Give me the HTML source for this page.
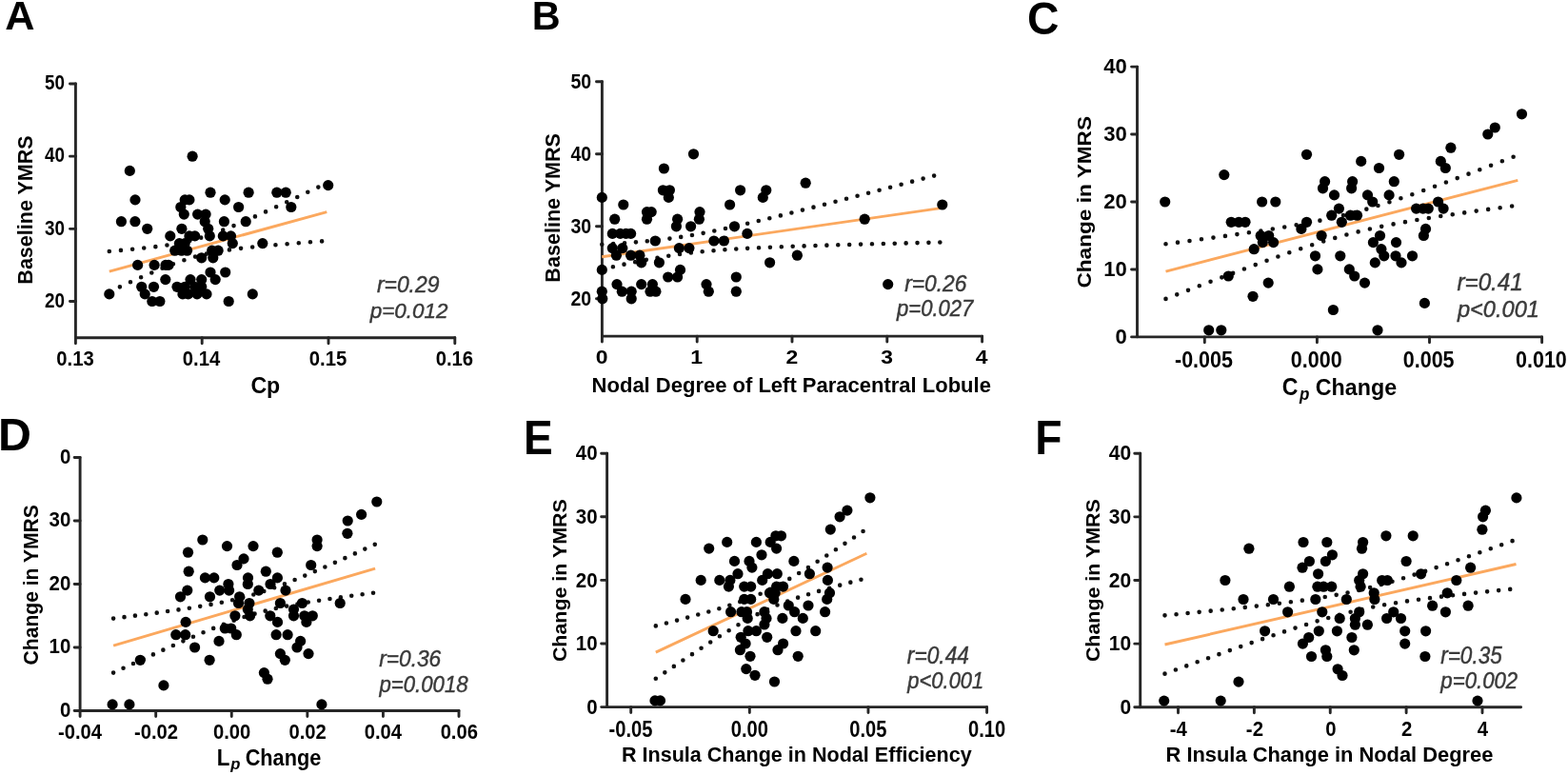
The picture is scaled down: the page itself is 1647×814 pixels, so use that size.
<!DOCTYPE html>
<html><head><meta charset="utf-8"><title>Figure</title>
<style>
html,body{margin:0;padding:0;background:#fff;}
body{width:1647px;height:814px;overflow:hidden;}
svg{display:block;}
text{font-family:"Liberation Sans", Arial, sans-serif;}
</style></head><body>
<svg width="1647" height="814" viewBox="0 0 1647 814">
<rect width="1647" height="814" fill="#fff"/>
<text transform="translate(5.17,30.85) scale(1.0090,1)" font-size="42.90" font-weight="bold" font-style="normal" fill="#000">A</text>
<path d="M79.40,88.00 L79.40,354.80 L477.80,354.80" fill="none" stroke="#262626" stroke-width="2.9" stroke-linejoin="round" stroke-linecap="round"/>
<path d="M73.45,316.50 L79.40,316.50 M73.45,240.33 L79.40,240.33 M73.45,164.17 L79.40,164.17 M73.45,88.00 L79.40,88.00 M79.40,354.80 L79.40,360.75 M212.20,354.80 L212.20,360.75 M345.00,354.80 L345.00,360.75 M477.80,354.80 L477.80,360.75" fill="none" stroke="#262626" stroke-width="2.9" stroke-linecap="round"/>
<text transform="translate(47.09,322.74) scale(0.8801,1)" font-size="21.41" font-weight="bold" font-style="normal" fill="#000">20</text>
<text transform="translate(47.09,246.57) scale(0.8801,1)" font-size="21.41" font-weight="bold" font-style="normal" fill="#000">30</text>
<text transform="translate(47.09,170.40) scale(0.8801,1)" font-size="21.41" font-weight="bold" font-style="normal" fill="#000">40</text>
<text transform="translate(47.09,94.24) scale(0.8801,1)" font-size="21.41" font-weight="bold" font-style="normal" fill="#000">50</text>
<text transform="translate(59.24,384.23) scale(0.9405,1)" font-size="21.55" font-weight="bold" font-style="normal" fill="#000">0.13</text>
<text transform="translate(191.74,384.23) scale(0.9405,1)" font-size="21.55" font-weight="bold" font-style="normal" fill="#000">0.14</text>
<text transform="translate(324.74,384.23) scale(0.9405,1)" font-size="21.55" font-weight="bold" font-style="normal" fill="#000">0.15</text>
<text transform="translate(457.64,384.23) scale(0.9405,1)" font-size="21.55" font-weight="bold" font-style="normal" fill="#000">0.16</text>
<text transform="translate(263.43,412.88) scale(0.9971,1)" font-size="23.19" font-weight="bold" font-style="normal" fill="#000">Cp</text>
<text transform="translate(34.33,298.65) rotate(-90) scale(0.9893,1)" font-size="21.77" font-weight="bold" fill="#000">Baseline YMRS</text>
<text transform="translate(395.91,307.31) scale(0.9509,1)" font-size="24.08" font-weight="normal" font-style="italic" fill="#3a3a3a" stroke="#3a3a3a" stroke-width="0.45">r=0.29</text>
<text transform="translate(388.71,333.54) scale(1.0009,1)" font-size="22.42" font-weight="normal" font-style="italic" fill="#3a3a3a" stroke="#3a3a3a" stroke-width="0.45">p=0.012</text>
<text transform="translate(558.76,30.85) scale(0.9630,1)" font-size="42.90" font-weight="bold" font-style="normal" fill="#000">B</text>
<path d="M632.40,85.80 L632.40,353.10 L1031.60,353.10" fill="none" stroke="#262626" stroke-width="2.9" stroke-linejoin="round" stroke-linecap="round"/>
<path d="M626.45,313.80 L632.40,313.80 M626.45,237.80 L632.40,237.80 M626.45,161.80 L632.40,161.80 M626.45,85.80 L632.40,85.80 M632.40,353.10 L632.40,359.05 M732.20,353.10 L732.20,359.05 M832.00,353.10 L832.00,359.05 M931.80,353.10 L931.80,359.05 M1031.60,353.10 L1031.60,359.05" fill="none" stroke="#262626" stroke-width="2.9" stroke-linecap="round"/>
<text transform="translate(599.47,320.93) scale(0.9057,1)" font-size="21.55" font-weight="bold" font-style="normal" fill="#000">20</text>
<text transform="translate(599.47,244.93) scale(0.9057,1)" font-size="21.55" font-weight="bold" font-style="normal" fill="#000">30</text>
<text transform="translate(599.47,168.93) scale(0.9057,1)" font-size="21.55" font-weight="bold" font-style="normal" fill="#000">40</text>
<text transform="translate(599.47,92.93) scale(0.9057,1)" font-size="21.55" font-weight="bold" font-style="normal" fill="#000">50</text>
<text transform="translate(625.73,381.75) scale(1.1638,1)" font-size="19.72" font-weight="bold" font-style="normal" fill="#000">0</text>
<text transform="translate(725.13,381.75) scale(1.1638,1)" font-size="19.72" font-weight="bold" font-style="normal" fill="#000">1</text>
<text transform="translate(825.39,381.75) scale(1.1638,1)" font-size="19.72" font-weight="bold" font-style="normal" fill="#000">2</text>
<text transform="translate(925.25,381.75) scale(1.1638,1)" font-size="19.72" font-weight="bold" font-style="normal" fill="#000">3</text>
<text transform="translate(1024.82,381.75) scale(1.1638,1)" font-size="19.72" font-weight="bold" font-style="normal" fill="#000">4</text>
<text transform="translate(621.62,412.26) scale(1.0292,1)" font-size="21.39" font-weight="bold" font-style="normal" fill="#000">Nodal Degree of Left Paracentral Lobule</text>
<text transform="translate(587.52,296.65) rotate(-90) scale(0.9440,1)" font-size="22.86" font-weight="bold" fill="#000">Baseline YMRS</text>
<text transform="translate(950.21,305.61) scale(0.9669,1)" font-size="23.52" font-weight="normal" font-style="italic" fill="#3a3a3a" stroke="#3a3a3a" stroke-width="0.45">r=0.26</text>
<text transform="translate(942.00,332.08) scale(0.9524,1)" font-size="23.19" font-weight="normal" font-style="italic" fill="#3a3a3a" stroke="#3a3a3a" stroke-width="0.45">p=0.027</text>
<text transform="translate(1078.90,36.26) scale(0.9438,1)" font-size="49.01" font-weight="bold" font-style="normal" fill="#000">C</text>
<path d="M1194.50,70.10 L1194.50,353.90 L1619.60,353.90" fill="none" stroke="#262626" stroke-width="2.9" stroke-linejoin="round" stroke-linecap="round"/>
<path d="M1188.55,353.90 L1194.50,353.90 M1188.55,282.95 L1194.50,282.95 M1188.55,212.00 L1194.50,212.00 M1188.55,141.05 L1194.50,141.05 M1188.55,70.10 L1194.50,70.10 M1265.30,353.90 L1265.30,359.85 M1383.40,353.90 L1383.40,359.85 M1501.50,353.90 L1501.50,359.85 M1619.60,353.90 L1619.60,359.85" fill="none" stroke="#262626" stroke-width="2.9" stroke-linecap="round"/>
<text transform="translate(1171.48,360.93) scale(0.9924,1)" font-size="22.25" font-weight="bold" font-style="normal" fill="#000">0</text>
<text transform="translate(1159.22,289.98) scale(0.9924,1)" font-size="22.25" font-weight="bold" font-style="normal" fill="#000">10</text>
<text transform="translate(1159.22,219.03) scale(0.9924,1)" font-size="22.25" font-weight="bold" font-style="normal" fill="#000">20</text>
<text transform="translate(1159.22,148.08) scale(0.9924,1)" font-size="22.25" font-weight="bold" font-style="normal" fill="#000">30</text>
<text transform="translate(1159.22,77.13) scale(0.9924,1)" font-size="22.25" font-weight="bold" font-style="normal" fill="#000">40</text>
<text transform="translate(1233.99,385.92) scale(0.9187,1)" font-size="23.38" font-weight="bold" font-style="normal" fill="#000">-0.005</text>
<text transform="translate(1355.85,385.92) scale(0.9187,1)" font-size="23.38" font-weight="bold" font-style="normal" fill="#000">0.000</text>
<text transform="translate(1473.79,385.92) scale(0.9187,1)" font-size="23.38" font-weight="bold" font-style="normal" fill="#000">0.005</text>
<text transform="translate(1592.05,385.92) scale(0.9187,1)" font-size="23.38" font-weight="bold" font-style="normal" fill="#000">0.010</text>
<text transform="translate(1346.83,415.49) scale(0.8848,1)" font-size="26.06" font-weight="bold" font-style="normal" fill="#000">C</text>
<text transform="translate(1365.09,420.14) scale(0.9375,1)" font-size="18.13" font-weight="bold" font-style="italic" fill="#000">p</text>
<text transform="translate(1381.82,414.93) scale(0.9538,1)" font-size="24.39" font-weight="bold" font-style="normal" fill="#000">Change</text>
<text transform="translate(1145.59,302.56) rotate(-90) scale(1.0907,1)" font-size="20.75" font-weight="bold" fill="#000">Change in YMRS</text>
<text transform="translate(1530.39,305.10) scale(0.9575,1)" font-size="25.35" font-weight="normal" font-style="italic" fill="#3a3a3a" stroke="#3a3a3a" stroke-width="0.45">r=0.41</text>
<text transform="translate(1530.94,332.73) scale(0.9675,1)" font-size="24.40" font-weight="normal" font-style="italic" fill="#3a3a3a" stroke="#3a3a3a" stroke-width="0.45">p<0.001</text>
<text transform="translate(-1.99,472.75) scale(1.0037,1)" font-size="48.12" font-weight="bold" font-style="normal" fill="#000">D</text>
<path d="M84.10,480.50 L84.10,746.50 L482.00,746.50" fill="none" stroke="#262626" stroke-width="2.9" stroke-linejoin="round" stroke-linecap="round"/>
<path d="M78.15,746.50 L84.10,746.50 M78.15,680.00 L84.10,680.00 M78.15,613.50 L84.10,613.50 M78.15,547.00 L84.10,547.00 M78.15,480.50 L84.10,480.50 M84.10,746.50 L84.10,752.45 M163.68,746.50 L163.68,752.45 M243.26,746.50 L243.26,752.45 M322.84,746.50 L322.84,752.45 M402.42,746.50 L402.42,752.45 M482.00,746.50 L482.00,752.45" fill="none" stroke="#262626" stroke-width="2.9" stroke-linecap="round"/>
<text transform="translate(62.90,752.84) scale(0.9566,1)" font-size="21.41" font-weight="bold" font-style="normal" fill="#000">0</text>
<text transform="translate(51.54,686.34) scale(0.9566,1)" font-size="21.41" font-weight="bold" font-style="normal" fill="#000">10</text>
<text transform="translate(51.54,619.84) scale(0.9566,1)" font-size="21.41" font-weight="bold" font-style="normal" fill="#000">20</text>
<text transform="translate(51.54,553.34) scale(0.9566,1)" font-size="21.41" font-weight="bold" font-style="normal" fill="#000">30</text>
<text transform="translate(62.90,486.84) scale(0.9566,1)" font-size="21.41" font-weight="bold" font-style="normal" fill="#000">0</text>
<text transform="translate(61.04,776.22) scale(0.8919,1)" font-size="22.68" font-weight="bold" font-style="normal" fill="#000">-0.04</text>
<text transform="translate(140.97,776.22) scale(0.8919,1)" font-size="22.68" font-weight="bold" font-style="normal" fill="#000">-0.02</text>
<text transform="translate(223.94,776.22) scale(0.8919,1)" font-size="22.68" font-weight="bold" font-style="normal" fill="#000">0.00</text>
<text transform="translate(303.52,776.22) scale(0.8919,1)" font-size="22.68" font-weight="bold" font-style="normal" fill="#000">0.02</text>
<text transform="translate(382.75,776.22) scale(0.8919,1)" font-size="22.68" font-weight="bold" font-style="normal" fill="#000">0.04</text>
<text transform="translate(462.63,776.22) scale(0.8919,1)" font-size="22.68" font-weight="bold" font-style="normal" fill="#000">0.06</text>
<text transform="translate(227.80,803.75) scale(0.9511,1)" font-size="23.48" font-weight="bold" font-style="normal" fill="#000">L</text>
<text transform="translate(242.18,808.49) scale(0.9843,1)" font-size="16.93" font-weight="bold" font-style="italic" fill="#000">p</text>
<text transform="translate(257.68,804.01) scale(0.9234,1)" font-size="23.53" font-weight="bold" font-style="normal" fill="#000">Change</text>
<text transform="translate(40.31,698.39) rotate(-90) scale(0.9767,1)" font-size="21.60" font-weight="bold" fill="#000">Change in YMRS</text>
<text transform="translate(398.31,700.41) scale(0.9304,1)" font-size="24.37" font-weight="normal" font-style="italic" fill="#3a3a3a" stroke="#3a3a3a" stroke-width="0.45">r=0.36</text>
<text transform="translate(398.50,726.58) scale(0.9566,1)" font-size="23.19" font-weight="normal" font-style="italic" fill="#3a3a3a" stroke="#3a3a3a" stroke-width="0.45">p=0.0018</text>
<text transform="translate(550.06,476.75) scale(0.9366,1)" font-size="49.13" font-weight="bold" font-style="normal" fill="#000">E</text>
<path d="M637.60,476.20 L637.60,742.60 L1036.60,742.60" fill="none" stroke="#262626" stroke-width="2.9" stroke-linejoin="round" stroke-linecap="round"/>
<path d="M631.65,742.60 L637.60,742.60 M631.65,676.00 L637.60,676.00 M631.65,609.40 L637.60,609.40 M631.65,542.80 L637.60,542.80 M631.65,476.20 L637.60,476.20 M662.70,742.60 L662.70,748.55 M787.33,742.60 L787.33,748.55 M911.97,742.60 L911.97,748.55 M1036.60,742.60 L1036.60,748.55" fill="none" stroke="#262626" stroke-width="2.9" stroke-linecap="round"/>
<text transform="translate(616.21,749.83) scale(0.9259,1)" font-size="22.11" font-weight="bold" font-style="normal" fill="#000">0</text>
<text transform="translate(604.84,683.23) scale(0.9259,1)" font-size="22.11" font-weight="bold" font-style="normal" fill="#000">10</text>
<text transform="translate(604.84,616.63) scale(0.9259,1)" font-size="22.11" font-weight="bold" font-style="normal" fill="#000">20</text>
<text transform="translate(604.84,550.03) scale(0.9259,1)" font-size="22.11" font-weight="bold" font-style="normal" fill="#000">30</text>
<text transform="translate(604.84,483.43) scale(0.9259,1)" font-size="22.11" font-weight="bold" font-style="normal" fill="#000">40</text>
<text transform="translate(639.54,773.51) scale(0.8379,1)" font-size="24.08" font-weight="bold" font-style="normal" fill="#000">-0.05</text>
<text transform="translate(767.71,773.51) scale(0.8379,1)" font-size="24.08" font-weight="bold" font-style="normal" fill="#000">0.00</text>
<text transform="translate(892.19,773.51) scale(0.8379,1)" font-size="24.08" font-weight="bold" font-style="normal" fill="#000">0.05</text>
<text transform="translate(1016.97,773.51) scale(0.8379,1)" font-size="24.08" font-weight="bold" font-style="normal" fill="#000">0.10</text>
<text transform="translate(652.95,800.01) scale(0.9556,1)" font-size="22.57" font-weight="bold" font-style="normal" fill="#000">R Insula Change in Nodal Efficiency</text>
<text transform="translate(594.58,695.11) rotate(-90) scale(1.1070,1)" font-size="19.36" font-weight="bold" fill="#000">Change in YMRS</text>
<text transform="translate(952.81,696.80) scale(0.9122,1)" font-size="24.93" font-weight="normal" font-style="italic" fill="#3a3a3a" stroke="#3a3a3a" stroke-width="0.45">r=0.44</text>
<text transform="translate(953.30,722.58) scale(0.9469,1)" font-size="23.19" font-weight="normal" font-style="italic" fill="#3a3a3a" stroke="#3a3a3a" stroke-width="0.45">p<0.001</text>
<text transform="translate(1087.34,476.75) scale(0.9419,1)" font-size="49.13" font-weight="bold" font-style="normal" fill="#000">F</text>
<path d="M1197.70,476.20 L1197.70,742.80 L1597.60,742.80" fill="none" stroke="#262626" stroke-width="2.9" stroke-linejoin="round" stroke-linecap="round"/>
<path d="M1191.75,742.80 L1197.70,742.80 M1191.75,676.15 L1197.70,676.15 M1191.75,609.50 L1197.70,609.50 M1191.75,542.85 L1197.70,542.85 M1191.75,476.20 L1197.70,476.20 M1237.50,742.80 L1237.50,748.75 M1317.38,742.80 L1317.38,748.75 M1397.25,742.80 L1397.25,748.75 M1477.12,742.80 L1477.12,748.75 M1557.00,742.80 L1557.00,748.75" fill="none" stroke="#262626" stroke-width="2.9" stroke-linecap="round"/>
<text transform="translate(1176.41,750.03) scale(0.9516,1)" font-size="22.11" font-weight="bold" font-style="normal" fill="#000">0</text>
<text transform="translate(1164.73,683.38) scale(0.9516,1)" font-size="22.11" font-weight="bold" font-style="normal" fill="#000">10</text>
<text transform="translate(1164.73,616.73) scale(0.9516,1)" font-size="22.11" font-weight="bold" font-style="normal" fill="#000">20</text>
<text transform="translate(1164.73,550.08) scale(0.9516,1)" font-size="22.11" font-weight="bold" font-style="normal" fill="#000">30</text>
<text transform="translate(1164.73,483.43) scale(0.9516,1)" font-size="22.11" font-weight="bold" font-style="normal" fill="#000">40</text>
<text transform="translate(1228.64,772.75) scale(0.9061,1)" font-size="22.46" font-weight="bold" font-style="normal" fill="#000">-4</text>
<text transform="translate(1308.87,772.75) scale(0.9061,1)" font-size="22.46" font-weight="bold" font-style="normal" fill="#000">-2</text>
<text transform="translate(1392.15,772.75) scale(0.9061,1)" font-size="22.46" font-weight="bold" font-style="normal" fill="#000">0</text>
<text transform="translate(1472.08,772.75) scale(0.9061,1)" font-size="22.46" font-weight="bold" font-style="normal" fill="#000">2</text>
<text transform="translate(1551.80,772.75) scale(0.9061,1)" font-size="22.46" font-weight="bold" font-style="normal" fill="#000">4</text>
<text transform="translate(1224.53,800.19) scale(0.9653,1)" font-size="22.67" font-weight="bold" font-style="normal" fill="#000">R Insula Change in Nodal Degree</text>
<text transform="translate(1154.58,695.11) rotate(-90) scale(1.1070,1)" font-size="19.36" font-weight="bold" fill="#000">Change in YMRS</text>
<text transform="translate(1513.21,696.80) scale(0.9036,1)" font-size="24.93" font-weight="normal" font-style="italic" fill="#3a3a3a" stroke="#3a3a3a" stroke-width="0.45">r=0.35</text>
<text transform="translate(1513.31,722.58) scale(0.9583,1)" font-size="23.19" font-weight="normal" font-style="italic" fill="#3a3a3a" stroke="#3a3a3a" stroke-width="0.45">p=0.002</text>
<path d="M114.80,263.93 L115.95,263.83 L117.10,263.74 L118.24,263.64 L119.39,263.54 L120.54,263.45 L121.69,263.35 L122.84,263.25 L123.99,263.15 L125.13,263.05 L126.28,262.95 L127.43,262.85 L128.58,262.74 L129.73,262.64 L130.88,262.54 L132.02,262.43 L133.17,262.33 L134.32,262.22 L135.47,262.11 L136.62,262.01 L137.76,261.90 L138.91,261.79 L140.06,261.68 L141.21,261.56 L142.36,261.45 L143.51,261.34 L144.65,261.22 L145.80,261.10 L146.95,260.98 L148.10,260.87 L149.25,260.74 L150.40,260.62 L151.54,260.50 L152.69,260.37 L153.84,260.25 L154.99,260.12 L156.14,259.99 L157.28,259.86 L158.43,259.72 L159.58,259.59 L160.73,259.45 L161.88,259.31 L163.03,259.17 L164.17,259.02 L165.32,258.87 L166.47,258.72 L167.62,258.57 L168.77,258.42 L169.92,258.26 L171.06,258.10 L172.21,257.94 L173.36,257.77 L174.51,257.60 L175.66,257.43 L176.81,257.25 L177.95,257.07 L179.10,256.89 L180.25,256.70 L181.40,256.50 L182.55,256.31 L183.69,256.11 L184.84,255.90 L185.99,255.69 L187.14,255.48 L188.29,255.26 L189.44,255.03 L190.58,254.80 L191.73,254.57 L192.88,254.33 L194.03,254.08 L195.18,253.83 L196.33,253.57 L197.47,253.30 L198.62,253.03 L199.77,252.76 L200.92,252.48 L202.07,252.19 L203.21,251.89 L204.36,251.59 L205.51,251.28 L206.66,250.97 L207.81,250.65 L208.96,250.32 L210.10,249.98 L211.25,249.64 L212.40,249.30 L213.55,248.94 L214.70,248.59 L215.85,248.22 L216.99,247.85 L218.14,247.47 L219.29,247.09 L220.44,246.70 L221.59,246.31 L222.73,245.91 L223.88,245.51 L225.03,245.10 L226.18,244.68 L227.33,244.26 L228.48,243.84 L229.62,243.41 L230.77,242.98 L231.92,242.54 L233.07,242.10 L234.22,241.66 L235.37,241.21 L236.51,240.76 L237.66,240.30 L238.81,239.84 L239.96,239.38 L241.11,238.92 L242.25,238.45 L243.40,237.98 L244.55,237.50 L245.70,237.03 L246.85,236.55 L248.00,236.07 L249.14,235.58 L250.29,235.10 L251.44,234.61 L252.59,234.12 L253.74,233.62 L254.89,233.13 L256.03,232.63 L257.18,232.14 L258.33,231.64 L259.48,231.13 L260.63,230.63 L261.77,230.13 L262.92,229.62 L264.07,229.11 L265.22,228.60 L266.37,228.09 L267.52,227.58 L268.66,227.07 L269.81,226.55 L270.96,226.04 L272.11,225.52 L273.26,225.01 L274.41,224.49 L275.55,223.97 L276.70,223.45 L277.85,222.93 L279.00,222.41 L280.15,221.88 L281.29,221.36 L282.44,220.84 L283.59,220.31 L284.74,219.78 L285.89,219.26 L287.04,218.73 L288.18,218.20 L289.33,217.67 L290.48,217.14 L291.63,216.61 L292.78,216.08 L293.93,215.55 L295.07,215.02 L296.22,214.49 L297.37,213.96 L298.52,213.42 L299.67,212.89 L300.82,212.36 L301.96,211.82 L303.11,211.29 L304.26,210.75 L305.41,210.21 L306.56,209.68 L307.70,209.14 L308.85,208.61 L310.00,208.07 L311.15,207.53 L312.30,206.99 L313.45,206.45 L314.59,205.91 L315.74,205.38 L316.89,204.84 L318.04,204.30 L319.19,203.76 L320.34,203.22 L321.48,202.68 L322.63,202.13 L323.78,201.59 L324.93,201.05 L326.08,200.51 L327.22,199.97 L328.37,199.43 L329.52,198.88 L330.67,198.34 L331.82,197.80 L332.97,197.25 L334.11,196.71 L335.26,196.17 L336.41,195.62 L337.56,195.08 L338.71,194.54 L339.86,193.99 L341.00,193.45 L342.15,192.90 L343.30,192.36" fill="none" stroke="#111" stroke-width="4.6" stroke-linecap="round" stroke-dasharray="0 12.2"/>
<path d="M114.80,306.47 L115.95,305.94 L117.10,305.41 L118.24,304.87 L119.39,304.34 L120.54,303.81 L121.69,303.28 L122.84,302.75 L123.99,302.23 L125.13,301.70 L126.28,301.17 L127.43,300.64 L128.58,300.12 L129.73,299.59 L130.88,299.07 L132.02,298.55 L133.17,298.02 L134.32,297.50 L135.47,296.98 L136.62,296.46 L137.76,295.94 L138.91,295.42 L140.06,294.91 L141.21,294.39 L142.36,293.87 L143.51,293.36 L144.65,292.85 L145.80,292.34 L146.95,291.83 L148.10,291.32 L149.25,290.81 L150.40,290.31 L151.54,289.80 L152.69,289.30 L153.84,288.80 L154.99,288.30 L156.14,287.80 L157.28,287.30 L158.43,286.81 L159.58,286.32 L160.73,285.83 L161.88,285.34 L163.03,284.85 L164.17,284.37 L165.32,283.89 L166.47,283.41 L167.62,282.93 L168.77,282.46 L169.92,281.99 L171.06,281.52 L172.21,281.06 L173.36,280.59 L174.51,280.14 L175.66,279.68 L176.81,279.23 L177.95,278.78 L179.10,278.34 L180.25,277.90 L181.40,277.46 L182.55,277.03 L183.69,276.60 L184.84,276.18 L185.99,275.76 L187.14,275.35 L188.29,274.94 L189.44,274.54 L190.58,274.14 L191.73,273.75 L192.88,273.36 L194.03,272.98 L195.18,272.60 L196.33,272.23 L197.47,271.87 L198.62,271.51 L199.77,271.16 L200.92,270.81 L202.07,270.48 L203.21,270.14 L204.36,269.82 L205.51,269.50 L206.66,269.18 L207.81,268.88 L208.96,268.57 L210.10,268.28 L211.25,267.99 L212.40,267.71 L213.55,267.44 L214.70,267.17 L215.85,266.90 L216.99,266.65 L218.14,266.39 L219.29,266.15 L220.44,265.91 L221.59,265.67 L222.73,265.44 L223.88,265.22 L225.03,265.00 L226.18,264.79 L227.33,264.58 L228.48,264.37 L229.62,264.17 L230.77,263.98 L231.92,263.79 L233.07,263.60 L234.22,263.42 L235.37,263.24 L236.51,263.06 L237.66,262.89 L238.81,262.72 L239.96,262.55 L241.11,262.39 L242.25,262.23 L243.40,262.07 L244.55,261.92 L245.70,261.77 L246.85,261.62 L248.00,261.47 L249.14,261.33 L250.29,261.18 L251.44,261.04 L252.59,260.91 L253.74,260.77 L254.89,260.64 L256.03,260.51 L257.18,260.38 L258.33,260.25 L259.48,260.12 L260.63,260.00 L261.77,259.87 L262.92,259.75 L264.07,259.63 L265.22,259.51 L266.37,259.39 L267.52,259.28 L268.66,259.16 L269.81,259.05 L270.96,258.93 L272.11,258.82 L273.26,258.71 L274.41,258.60 L275.55,258.49 L276.70,258.38 L277.85,258.28 L279.00,258.17 L280.15,258.06 L281.29,257.96 L282.44,257.86 L283.59,257.75 L284.74,257.65 L285.89,257.55 L287.04,257.45 L288.18,257.35 L289.33,257.25 L290.48,257.15 L291.63,257.05 L292.78,256.95 L293.93,256.86 L295.07,256.76 L296.22,256.66 L297.37,256.57 L298.52,256.47 L299.67,256.38 L300.82,256.29 L301.96,256.19 L303.11,256.10 L304.26,256.01 L305.41,255.91 L306.56,255.82 L307.70,255.73 L308.85,255.64 L310.00,255.55 L311.15,255.46 L312.30,255.37 L313.45,255.28 L314.59,255.19 L315.74,255.10 L316.89,255.01 L318.04,254.92 L319.19,254.83 L320.34,254.75 L321.48,254.66 L322.63,254.57 L323.78,254.49 L324.93,254.40 L326.08,254.31 L327.22,254.23 L328.37,254.14 L329.52,254.05 L330.67,253.97 L331.82,253.88 L332.97,253.80 L334.11,253.71 L335.26,253.63 L336.41,253.54 L337.56,253.46 L338.71,253.38 L339.86,253.29 L341.00,253.21 L342.15,253.13 L343.30,253.04" fill="none" stroke="#111" stroke-width="4.6" stroke-linecap="round" stroke-dasharray="0 12.2"/>
<line x1="114.80" y1="285.20" x2="343.30" y2="222.70" stroke="#fba85e" stroke-width="2.9"/>
<g fill="#000"><circle cx="202.1" cy="164.2" r="5.6"/><circle cx="136.3" cy="179.4" r="5.6"/><circle cx="344.7" cy="194.6" r="5.6"/><circle cx="221.0" cy="202.2" r="5.6"/><circle cx="261.1" cy="202.2" r="5.6"/><circle cx="290.8" cy="202.2" r="5.6"/><circle cx="300.2" cy="202.2" r="5.6"/><circle cx="142.0" cy="209.9" r="5.6"/><circle cx="194.2" cy="209.9" r="5.6"/><circle cx="198.9" cy="209.9" r="5.6"/><circle cx="236.2" cy="209.9" r="5.6"/><circle cx="189.8" cy="217.5" r="5.6"/><circle cx="250.6" cy="217.5" r="5.6"/><circle cx="305.8" cy="217.5" r="5.6"/><circle cx="193.3" cy="225.1" r="5.6"/><circle cx="207.6" cy="225.1" r="5.6"/><circle cx="216.1" cy="225.1" r="5.6"/><circle cx="127.4" cy="232.7" r="5.6"/><circle cx="141.9" cy="232.7" r="5.6"/><circle cx="215.2" cy="232.7" r="5.6"/><circle cx="235.4" cy="232.7" r="5.6"/><circle cx="258.2" cy="232.7" r="5.6"/><circle cx="154.7" cy="240.3" r="5.6"/><circle cx="190.9" cy="240.3" r="5.6"/><circle cx="218.7" cy="240.3" r="5.6"/><circle cx="178.8" cy="247.9" r="5.6"/><circle cx="198.9" cy="247.9" r="5.6"/><circle cx="204.7" cy="247.9" r="5.6"/><circle cx="220.3" cy="247.9" r="5.6"/><circle cx="234.3" cy="247.9" r="5.6"/><circle cx="242.5" cy="247.9" r="5.6"/><circle cx="188.4" cy="255.6" r="5.6"/><circle cx="194.2" cy="255.6" r="5.6"/><circle cx="244.3" cy="255.6" r="5.6"/><circle cx="275.8" cy="255.6" r="5.6"/><circle cx="183.7" cy="263.2" r="5.6"/><circle cx="190.7" cy="263.2" r="5.6"/><circle cx="196.5" cy="263.2" r="5.6"/><circle cx="222.7" cy="263.2" r="5.6"/><circle cx="229.1" cy="263.2" r="5.6"/><circle cx="211.7" cy="270.8" r="5.6"/><circle cx="223.8" cy="270.8" r="5.6"/><circle cx="144.6" cy="278.4" r="5.6"/><circle cx="162.1" cy="278.4" r="5.6"/><circle cx="174.0" cy="278.4" r="5.6"/><circle cx="177.0" cy="278.4" r="5.6"/><circle cx="221.0" cy="286.0" r="5.6"/><circle cx="236.7" cy="286.0" r="5.6"/><circle cx="173.8" cy="293.6" r="5.6"/><circle cx="200.0" cy="293.6" r="5.6"/><circle cx="211.7" cy="293.6" r="5.6"/><circle cx="226.2" cy="293.6" r="5.6"/><circle cx="148.7" cy="301.3" r="5.6"/><circle cx="161.5" cy="301.3" r="5.6"/><circle cx="186.0" cy="301.3" r="5.6"/><circle cx="194.2" cy="301.3" r="5.6"/><circle cx="204.7" cy="301.3" r="5.6"/><circle cx="211.7" cy="301.3" r="5.6"/><circle cx="114.8" cy="308.9" r="5.6"/><circle cx="152.2" cy="308.9" r="5.6"/><circle cx="191.9" cy="308.9" r="5.6"/><circle cx="197.7" cy="308.9" r="5.6"/><circle cx="207.0" cy="308.9" r="5.6"/><circle cx="217.0" cy="308.9" r="5.6"/><circle cx="265.3" cy="308.9" r="5.6"/><circle cx="159.8" cy="316.5" r="5.6"/><circle cx="167.9" cy="316.5" r="5.6"/><circle cx="240.2" cy="316.5" r="5.6"/></g>
<path d="M632.30,256.68 L634.10,256.58 L635.89,256.48 L637.69,256.38 L639.49,256.28 L641.28,256.18 L643.08,256.07 L644.88,255.97 L646.67,255.86 L648.47,255.74 L650.26,255.63 L652.06,255.51 L653.86,255.39 L655.65,255.27 L657.45,255.14 L659.25,255.02 L661.04,254.88 L662.84,254.75 L664.64,254.61 L666.43,254.47 L668.23,254.32 L670.03,254.17 L671.82,254.02 L673.62,253.86 L675.42,253.70 L677.21,253.54 L679.01,253.37 L680.81,253.20 L682.60,253.02 L684.40,252.83 L686.19,252.65 L687.99,252.46 L689.79,252.26 L691.58,252.06 L693.38,251.85 L695.18,251.64 L696.97,251.42 L698.77,251.19 L700.57,250.97 L702.36,250.73 L704.16,250.49 L705.96,250.25 L707.75,250.00 L709.55,249.74 L711.35,249.48 L713.14,249.21 L714.94,248.94 L716.73,248.66 L718.53,248.37 L720.33,248.08 L722.12,247.79 L723.92,247.49 L725.72,247.18 L727.51,246.87 L729.31,246.55 L731.11,246.23 L732.90,245.91 L734.70,245.58 L736.50,245.24 L738.29,244.90 L740.09,244.56 L741.89,244.21 L743.68,243.85 L745.48,243.50 L747.27,243.14 L749.07,242.77 L750.87,242.40 L752.66,242.03 L754.46,241.65 L756.26,241.27 L758.05,240.89 L759.85,240.51 L761.65,240.12 L763.44,239.73 L765.24,239.33 L767.04,238.93 L768.83,238.53 L770.63,238.13 L772.43,237.73 L774.22,237.32 L776.02,236.91 L777.82,236.50 L779.61,236.08 L781.41,235.67 L783.20,235.25 L785.00,234.83 L786.80,234.41 L788.59,233.98 L790.39,233.56 L792.19,233.13 L793.98,232.70 L795.78,232.27 L797.58,231.84 L799.37,231.41 L801.17,230.97 L802.97,230.54 L804.76,230.10 L806.56,229.66 L808.36,229.22 L810.15,228.78 L811.95,228.34 L813.74,227.90 L815.54,227.46 L817.34,227.01 L819.13,226.57 L820.93,226.12 L822.73,225.67 L824.52,225.23 L826.32,224.78 L828.12,224.33 L829.91,223.88 L831.71,223.43 L833.51,222.97 L835.30,222.52 L837.10,222.07 L838.90,221.61 L840.69,221.16 L842.49,220.70 L844.28,220.25 L846.08,219.79 L847.88,219.34 L849.67,218.88 L851.47,218.42 L853.27,217.96 L855.06,217.50 L856.86,217.04 L858.66,216.58 L860.45,216.12 L862.25,215.66 L864.05,215.20 L865.84,214.74 L867.64,214.28 L869.44,213.81 L871.23,213.35 L873.03,212.89 L874.83,212.42 L876.62,211.96 L878.42,211.50 L880.21,211.03 L882.01,210.57 L883.81,210.10 L885.60,209.63 L887.40,209.17 L889.20,208.70 L890.99,208.24 L892.79,207.77 L894.59,207.30 L896.38,206.83 L898.18,206.37 L899.98,205.90 L901.77,205.43 L903.57,204.96 L905.37,204.49 L907.16,204.03 L908.96,203.56 L910.75,203.09 L912.55,202.62 L914.35,202.15 L916.14,201.68 L917.94,201.21 L919.74,200.74 L921.53,200.27 L923.33,199.80 L925.13,199.33 L926.92,198.86 L928.72,198.38 L930.52,197.91 L932.31,197.44 L934.11,196.97 L935.91,196.50 L937.70,196.03 L939.50,195.55 L941.29,195.08 L943.09,194.61 L944.89,194.14 L946.68,193.66 L948.48,193.19 L950.28,192.72 L952.07,192.25 L953.87,191.77 L955.67,191.30 L957.46,190.83 L959.26,190.35 L961.06,189.88 L962.85,189.40 L964.65,188.93 L966.45,188.46 L968.24,187.98 L970.04,187.51 L971.84,187.03 L973.63,186.56 L975.43,186.09 L977.22,185.61 L979.02,185.14 L980.82,184.66 L982.61,184.19 L984.41,183.71 L986.21,183.24 L988.00,182.76 L989.80,182.29" fill="none" stroke="#111" stroke-width="4.6" stroke-linecap="round" stroke-dasharray="0 11.9"/>
<path d="M632.30,282.92 L634.10,282.50 L635.89,282.08 L637.69,281.67 L639.49,281.25 L641.28,280.84 L643.08,280.43 L644.88,280.02 L646.67,279.61 L648.47,279.21 L650.26,278.80 L652.06,278.40 L653.86,278.01 L655.65,277.61 L657.45,277.22 L659.25,276.84 L661.04,276.45 L662.84,276.07 L664.64,275.69 L666.43,275.32 L668.23,274.95 L670.03,274.58 L671.82,274.21 L673.62,273.85 L675.42,273.50 L677.21,273.15 L679.01,272.80 L680.81,272.46 L682.60,272.12 L684.40,271.78 L686.19,271.46 L687.99,271.13 L689.79,270.81 L691.58,270.50 L693.38,270.19 L695.18,269.88 L696.97,269.59 L698.77,269.29 L700.57,269.00 L702.36,268.72 L704.16,268.44 L705.96,268.17 L707.75,267.91 L709.55,267.65 L711.35,267.39 L713.14,267.14 L714.94,266.90 L716.73,266.66 L718.53,266.43 L720.33,266.20 L722.12,265.98 L723.92,265.77 L725.72,265.56 L727.51,265.35 L729.31,265.15 L731.11,264.95 L732.90,264.76 L734.70,264.58 L736.50,264.40 L738.29,264.22 L740.09,264.05 L741.89,263.88 L743.68,263.72 L745.48,263.56 L747.27,263.40 L749.07,263.25 L750.87,263.10 L752.66,262.96 L754.46,262.82 L756.26,262.68 L758.05,262.55 L759.85,262.42 L761.65,262.29 L763.44,262.16 L765.24,262.04 L767.04,261.92 L768.83,261.81 L770.63,261.69 L772.43,261.58 L774.22,261.47 L776.02,261.36 L777.82,261.26 L779.61,261.16 L781.41,261.06 L783.20,260.96 L785.00,260.86 L786.80,260.77 L788.59,260.67 L790.39,260.58 L792.19,260.49 L793.98,260.41 L795.78,260.32 L797.58,260.23 L799.37,260.15 L801.17,260.07 L802.97,259.99 L804.76,259.91 L806.56,259.83 L808.36,259.75 L810.15,259.67 L811.95,259.60 L813.74,259.52 L815.54,259.45 L817.34,259.38 L819.13,259.31 L820.93,259.24 L822.73,259.17 L824.52,259.10 L826.32,259.03 L828.12,258.97 L829.91,258.90 L831.71,258.83 L833.51,258.77 L835.30,258.70 L837.10,258.64 L838.90,258.58 L840.69,258.52 L842.49,258.46 L844.28,258.39 L846.08,258.33 L847.88,258.28 L849.67,258.22 L851.47,258.16 L853.27,258.10 L855.06,258.04 L856.86,257.98 L858.66,257.93 L860.45,257.87 L862.25,257.82 L864.05,257.76 L865.84,257.71 L867.64,257.65 L869.44,257.60 L871.23,257.54 L873.03,257.49 L874.83,257.44 L876.62,257.39 L878.42,257.33 L880.21,257.28 L882.01,257.23 L883.81,257.18 L885.60,257.13 L887.40,257.08 L889.20,257.03 L890.99,256.98 L892.79,256.93 L894.59,256.88 L896.38,256.83 L898.18,256.78 L899.98,256.73 L901.77,256.68 L903.57,256.63 L905.37,256.58 L907.16,256.54 L908.96,256.49 L910.75,256.44 L912.55,256.39 L914.35,256.35 L916.14,256.30 L917.94,256.25 L919.74,256.21 L921.53,256.16 L923.33,256.12 L925.13,256.07 L926.92,256.02 L928.72,255.98 L930.52,255.93 L932.31,255.89 L934.11,255.84 L935.91,255.80 L937.70,255.75 L939.50,255.71 L941.29,255.67 L943.09,255.62 L944.89,255.58 L946.68,255.53 L948.48,255.49 L950.28,255.45 L952.07,255.40 L953.87,255.36 L955.67,255.32 L957.46,255.27 L959.26,255.23 L961.06,255.19 L962.85,255.14 L964.65,255.10 L966.45,255.06 L968.24,255.02 L970.04,254.97 L971.84,254.93 L973.63,254.89 L975.43,254.85 L977.22,254.81 L979.02,254.76 L980.82,254.72 L982.61,254.68 L984.41,254.64 L986.21,254.60 L988.00,254.56 L989.80,254.51" fill="none" stroke="#111" stroke-width="4.6" stroke-linecap="round" stroke-dasharray="0 11.9"/>
<line x1="632.30" y1="269.80" x2="989.80" y2="218.40" stroke="#fba85e" stroke-width="2.9"/>
<g fill="#000"><circle cx="728.5" cy="161.8" r="5.6"/><circle cx="697.4" cy="177.0" r="5.6"/><circle cx="846.2" cy="192.2" r="5.6"/><circle cx="696.4" cy="199.8" r="5.6"/><circle cx="703.4" cy="199.8" r="5.6"/><circle cx="777.6" cy="199.8" r="5.6"/><circle cx="804.8" cy="199.8" r="5.6"/><circle cx="632.3" cy="207.4" r="5.6"/><circle cx="702.3" cy="207.4" r="5.6"/><circle cx="801.3" cy="207.4" r="5.6"/><circle cx="654.8" cy="215.0" r="5.6"/><circle cx="766.6" cy="215.0" r="5.6"/><circle cx="989.8" cy="215.0" r="5.6"/><circle cx="679.5" cy="222.6" r="5.6"/><circle cx="684.2" cy="222.6" r="5.6"/><circle cx="735.0" cy="222.6" r="5.6"/><circle cx="645.7" cy="230.2" r="5.6"/><circle cx="679.5" cy="230.2" r="5.6"/><circle cx="711.6" cy="230.2" r="5.6"/><circle cx="734.4" cy="230.2" r="5.6"/><circle cx="908.2" cy="230.2" r="5.6"/><circle cx="710.4" cy="237.8" r="5.6"/><circle cx="725.6" cy="237.8" r="5.6"/><circle cx="771.5" cy="237.8" r="5.6"/><circle cx="643.3" cy="245.4" r="5.6"/><circle cx="651.5" cy="245.4" r="5.6"/><circle cx="657.5" cy="245.4" r="5.6"/><circle cx="662.6" cy="245.4" r="5.6"/><circle cx="784.9" cy="245.4" r="5.6"/><circle cx="688.3" cy="253.0" r="5.6"/><circle cx="749.9" cy="253.0" r="5.6"/><circle cx="760.4" cy="253.0" r="5.6"/><circle cx="643.3" cy="260.6" r="5.6"/><circle cx="653.8" cy="260.6" r="5.6"/><circle cx="713.4" cy="260.6" r="5.6"/><circle cx="723.9" cy="260.6" r="5.6"/><circle cx="647.4" cy="268.2" r="5.6"/><circle cx="662.6" cy="268.2" r="5.6"/><circle cx="671.9" cy="268.2" r="5.6"/><circle cx="837.4" cy="268.2" r="5.6"/><circle cx="673.7" cy="275.8" r="5.6"/><circle cx="692.4" cy="275.8" r="5.6"/><circle cx="808.6" cy="275.8" r="5.6"/><circle cx="632.3" cy="283.4" r="5.6"/><circle cx="714.5" cy="283.4" r="5.6"/><circle cx="701.7" cy="291.0" r="5.6"/><circle cx="711.6" cy="291.0" r="5.6"/><circle cx="773.3" cy="291.0" r="5.6"/><circle cx="648.0" cy="298.6" r="5.6"/><circle cx="673.7" cy="298.6" r="5.6"/><circle cx="685.4" cy="298.6" r="5.6"/><circle cx="742.0" cy="298.6" r="5.6"/><circle cx="932.7" cy="298.6" r="5.6"/><circle cx="632.3" cy="306.2" r="5.6"/><circle cx="653.3" cy="306.2" r="5.6"/><circle cx="663.2" cy="306.2" r="5.6"/><circle cx="683.0" cy="306.2" r="5.6"/><circle cx="688.9" cy="306.2" r="5.6"/><circle cx="744.3" cy="306.2" r="5.6"/><circle cx="773.3" cy="306.2" r="5.6"/><circle cx="632.8" cy="313.8" r="5.6"/><circle cx="663.2" cy="313.8" r="5.6"/></g>
<path d="M1224.50,256.30 L1226.36,256.05 L1228.22,255.81 L1230.07,255.56 L1231.93,255.32 L1233.79,255.07 L1235.65,254.83 L1237.51,254.58 L1239.37,254.34 L1241.22,254.09 L1243.08,253.85 L1244.94,253.60 L1246.80,253.35 L1248.66,253.10 L1250.52,252.85 L1252.37,252.61 L1254.23,252.36 L1256.09,252.11 L1257.95,251.86 L1259.81,251.61 L1261.67,251.36 L1263.52,251.10 L1265.38,250.85 L1267.24,250.60 L1269.10,250.35 L1270.96,250.09 L1272.82,249.84 L1274.67,249.58 L1276.53,249.33 L1278.39,249.07 L1280.25,248.81 L1282.11,248.55 L1283.97,248.30 L1285.82,248.04 L1287.68,247.78 L1289.54,247.52 L1291.40,247.25 L1293.26,246.99 L1295.12,246.73 L1296.97,246.46 L1298.83,246.20 L1300.69,245.93 L1302.55,245.67 L1304.41,245.40 L1306.26,245.13 L1308.12,244.86 L1309.98,244.59 L1311.84,244.31 L1313.70,244.04 L1315.56,243.76 L1317.41,243.49 L1319.27,243.21 L1321.13,242.93 L1322.99,242.65 L1324.85,242.37 L1326.71,242.08 L1328.56,241.80 L1330.42,241.51 L1332.28,241.22 L1334.14,240.93 L1336.00,240.64 L1337.86,240.34 L1339.71,240.05 L1341.57,239.75 L1343.43,239.45 L1345.29,239.14 L1347.15,238.84 L1349.01,238.53 L1350.86,238.22 L1352.72,237.91 L1354.58,237.59 L1356.44,237.27 L1358.30,236.95 L1360.16,236.63 L1362.01,236.30 L1363.87,235.97 L1365.73,235.63 L1367.59,235.30 L1369.45,234.96 L1371.31,234.61 L1373.16,234.26 L1375.02,233.91 L1376.88,233.55 L1378.74,233.19 L1380.60,232.83 L1382.45,232.46 L1384.31,232.08 L1386.17,231.71 L1388.03,231.32 L1389.89,230.93 L1391.75,230.54 L1393.60,230.14 L1395.46,229.74 L1397.32,229.33 L1399.18,228.91 L1401.04,228.49 L1402.90,228.07 L1404.75,227.63 L1406.61,227.20 L1408.47,226.75 L1410.33,226.30 L1412.19,225.85 L1414.05,225.38 L1415.90,224.92 L1417.76,224.44 L1419.62,223.96 L1421.48,223.47 L1423.34,222.98 L1425.20,222.48 L1427.05,221.98 L1428.91,221.46 L1430.77,220.95 L1432.63,220.42 L1434.49,219.89 L1436.35,219.36 L1438.20,218.82 L1440.06,218.27 L1441.92,217.72 L1443.78,217.16 L1445.64,216.60 L1447.49,216.03 L1449.35,215.46 L1451.21,214.88 L1453.07,214.30 L1454.93,213.71 L1456.79,213.12 L1458.64,212.52 L1460.50,211.92 L1462.36,211.31 L1464.22,210.70 L1466.08,210.09 L1467.94,209.47 L1469.79,208.85 L1471.65,208.23 L1473.51,207.60 L1475.37,206.97 L1477.23,206.33 L1479.09,205.70 L1480.94,205.06 L1482.80,204.41 L1484.66,203.77 L1486.52,203.12 L1488.38,202.47 L1490.24,201.81 L1492.09,201.15 L1493.95,200.49 L1495.81,199.83 L1497.67,199.17 L1499.53,198.50 L1501.39,197.84 L1503.24,197.17 L1505.10,196.50 L1506.96,195.82 L1508.82,195.15 L1510.68,194.47 L1512.54,193.79 L1514.39,193.11 L1516.25,192.43 L1518.11,191.75 L1519.97,191.06 L1521.83,190.38 L1523.68,189.69 L1525.54,189.00 L1527.40,188.31 L1529.26,187.62 L1531.12,186.93 L1532.98,186.23 L1534.83,185.54 L1536.69,184.85 L1538.55,184.15 L1540.41,183.45 L1542.27,182.75 L1544.13,182.05 L1545.98,181.35 L1547.84,180.65 L1549.70,179.95 L1551.56,179.25 L1553.42,178.55 L1555.28,177.84 L1557.13,177.14 L1558.99,176.43 L1560.85,175.73 L1562.71,175.02 L1564.57,174.31 L1566.43,173.60 L1568.28,172.89 L1570.14,172.18 L1572.00,171.47 L1573.86,170.76 L1575.72,170.05 L1577.58,169.34 L1579.43,168.63 L1581.29,167.92 L1583.15,167.20 L1585.01,166.49 L1586.87,165.78 L1588.73,165.06 L1590.58,164.35 L1592.44,163.63 L1594.30,162.92" fill="none" stroke="#111" stroke-width="4.6" stroke-linecap="round" stroke-dasharray="0 12.6"/>
<path d="M1224.50,313.90 L1226.36,313.19 L1228.22,312.47 L1230.07,311.75 L1231.93,311.03 L1233.79,310.31 L1235.65,309.59 L1237.51,308.88 L1239.37,308.16 L1241.22,307.44 L1243.08,306.73 L1244.94,306.01 L1246.80,305.30 L1248.66,304.58 L1250.52,303.87 L1252.37,303.15 L1254.23,302.44 L1256.09,301.72 L1257.95,301.01 L1259.81,300.30 L1261.67,299.59 L1263.52,298.88 L1265.38,298.17 L1267.24,297.46 L1269.10,296.75 L1270.96,296.04 L1272.82,295.33 L1274.67,294.62 L1276.53,293.92 L1278.39,293.21 L1280.25,292.50 L1282.11,291.80 L1283.97,291.09 L1285.82,290.39 L1287.68,289.69 L1289.54,288.99 L1291.40,288.28 L1293.26,287.58 L1295.12,286.88 L1296.97,286.19 L1298.83,285.49 L1300.69,284.79 L1302.55,284.10 L1304.41,283.40 L1306.26,282.71 L1308.12,282.02 L1309.98,281.33 L1311.84,280.64 L1313.70,279.95 L1315.56,279.26 L1317.41,278.57 L1319.27,277.89 L1321.13,277.20 L1322.99,276.52 L1324.85,275.84 L1326.71,275.16 L1328.56,274.49 L1330.42,273.81 L1332.28,273.14 L1334.14,272.46 L1336.00,271.79 L1337.86,271.13 L1339.71,270.46 L1341.57,269.80 L1343.43,269.13 L1345.29,268.47 L1347.15,267.82 L1349.01,267.16 L1350.86,266.51 L1352.72,265.86 L1354.58,265.21 L1356.44,264.57 L1358.30,263.93 L1360.16,263.29 L1362.01,262.65 L1363.87,262.02 L1365.73,261.39 L1367.59,260.77 L1369.45,260.15 L1371.31,259.53 L1373.16,258.91 L1375.02,258.30 L1376.88,257.70 L1378.74,257.09 L1380.60,256.50 L1382.45,255.90 L1384.31,255.31 L1386.17,254.73 L1388.03,254.15 L1389.89,253.58 L1391.75,253.01 L1393.60,252.44 L1395.46,251.88 L1397.32,251.33 L1399.18,250.78 L1401.04,250.24 L1402.90,249.70 L1404.75,249.17 L1406.61,248.65 L1408.47,248.13 L1410.33,247.62 L1412.19,247.11 L1414.05,246.61 L1415.90,246.11 L1417.76,245.63 L1419.62,245.14 L1421.48,244.67 L1423.34,244.20 L1425.20,243.73 L1427.05,243.28 L1428.91,242.83 L1430.77,242.38 L1432.63,241.94 L1434.49,241.51 L1436.35,241.08 L1438.20,240.66 L1440.06,240.24 L1441.92,239.83 L1443.78,239.43 L1445.64,239.03 L1447.49,238.63 L1449.35,238.24 L1451.21,237.86 L1453.07,237.48 L1454.93,237.10 L1456.79,236.73 L1458.64,236.37 L1460.50,236.00 L1462.36,235.65 L1464.22,235.29 L1466.08,234.94 L1467.94,234.60 L1469.79,234.26 L1471.65,233.92 L1473.51,233.58 L1475.37,233.25 L1477.23,232.92 L1479.09,232.60 L1480.94,232.28 L1482.80,231.96 L1484.66,231.64 L1486.52,231.33 L1488.38,231.02 L1490.24,230.71 L1492.09,230.40 L1493.95,230.10 L1495.81,229.80 L1497.67,229.50 L1499.53,229.20 L1501.39,228.90 L1503.24,228.61 L1505.10,228.32 L1506.96,228.03 L1508.82,227.74 L1510.68,227.46 L1512.54,227.17 L1514.39,226.89 L1516.25,226.61 L1518.11,226.33 L1519.97,226.05 L1521.83,225.77 L1523.68,225.50 L1525.54,225.22 L1527.40,224.95 L1529.26,224.68 L1531.12,224.41 L1532.98,224.14 L1534.83,223.87 L1536.69,223.60 L1538.55,223.34 L1540.41,223.07 L1542.27,222.81 L1544.13,222.54 L1545.98,222.28 L1547.84,222.02 L1549.70,221.76 L1551.56,221.50 L1553.42,221.24 L1555.28,220.98 L1557.13,220.72 L1558.99,220.46 L1560.85,220.21 L1562.71,219.95 L1564.57,219.69 L1566.43,219.44 L1568.28,219.19 L1570.14,218.93 L1572.00,218.68 L1573.86,218.43 L1575.72,218.18 L1577.58,217.92 L1579.43,217.67 L1581.29,217.42 L1583.15,217.17 L1585.01,216.92 L1586.87,216.68 L1588.73,216.43 L1590.58,216.18 L1592.44,215.93 L1594.30,215.68" fill="none" stroke="#111" stroke-width="4.6" stroke-linecap="round" stroke-dasharray="0 12.6"/>
<line x1="1224.50" y1="285.10" x2="1594.30" y2="189.30" stroke="#fba85e" stroke-width="2.9"/>
<g fill="#000"><circle cx="1598.5" cy="119.8" r="5.6"/><circle cx="1570.3" cy="134.0" r="5.6"/><circle cx="1562.8" cy="141.0" r="5.6"/><circle cx="1523.9" cy="155.2" r="5.6"/><circle cx="1372.5" cy="162.3" r="5.6"/><circle cx="1469.6" cy="162.3" r="5.6"/><circle cx="1429.7" cy="169.4" r="5.6"/><circle cx="1513.3" cy="169.4" r="5.6"/><circle cx="1448.5" cy="176.5" r="5.6"/><circle cx="1518.3" cy="176.5" r="5.6"/><circle cx="1285.8" cy="183.6" r="5.6"/><circle cx="1391.6" cy="190.7" r="5.6"/><circle cx="1420.6" cy="190.7" r="5.6"/><circle cx="1464.3" cy="190.7" r="5.6"/><circle cx="1389.5" cy="197.8" r="5.6"/><circle cx="1419.6" cy="197.8" r="5.6"/><circle cx="1401.5" cy="204.9" r="5.6"/><circle cx="1436.5" cy="204.9" r="5.6"/><circle cx="1459.1" cy="204.9" r="5.6"/><circle cx="1223.7" cy="212.0" r="5.6"/><circle cx="1325.6" cy="212.0" r="5.6"/><circle cx="1339.8" cy="212.0" r="5.6"/><circle cx="1441.7" cy="212.0" r="5.6"/><circle cx="1510.6" cy="212.0" r="5.6"/><circle cx="1406.4" cy="219.1" r="5.6"/><circle cx="1487.6" cy="219.1" r="5.6"/><circle cx="1494.7" cy="219.1" r="5.6"/><circle cx="1500.3" cy="219.1" r="5.6"/><circle cx="1516.1" cy="219.1" r="5.6"/><circle cx="1398.7" cy="226.2" r="5.6"/><circle cx="1418.4" cy="226.2" r="5.6"/><circle cx="1425.5" cy="226.2" r="5.6"/><circle cx="1293.2" cy="233.3" r="5.6"/><circle cx="1301.2" cy="233.3" r="5.6"/><circle cx="1308.0" cy="233.3" r="5.6"/><circle cx="1372.5" cy="233.3" r="5.6"/><circle cx="1409.3" cy="233.3" r="5.6"/><circle cx="1366.9" cy="240.4" r="5.6"/><circle cx="1497.5" cy="240.4" r="5.6"/><circle cx="1324.2" cy="247.5" r="5.6"/><circle cx="1332.7" cy="247.5" r="5.6"/><circle cx="1388.1" cy="247.5" r="5.6"/><circle cx="1449.5" cy="247.5" r="5.6"/><circle cx="1495.4" cy="247.5" r="5.6"/><circle cx="1326.3" cy="254.6" r="5.6"/><circle cx="1337.6" cy="254.6" r="5.6"/><circle cx="1442.4" cy="254.6" r="5.6"/><circle cx="1466.5" cy="254.6" r="5.6"/><circle cx="1317.2" cy="261.7" r="5.6"/><circle cx="1450.9" cy="261.7" r="5.6"/><circle cx="1381.5" cy="268.8" r="5.6"/><circle cx="1407.8" cy="268.8" r="5.6"/><circle cx="1453.8" cy="268.8" r="5.6"/><circle cx="1466.0" cy="268.8" r="5.6"/><circle cx="1483.5" cy="268.8" r="5.6"/><circle cx="1444.3" cy="275.9" r="5.6"/><circle cx="1472.0" cy="275.9" r="5.6"/><circle cx="1383.9" cy="282.9" r="5.6"/><circle cx="1417.3" cy="282.9" r="5.6"/><circle cx="1290.3" cy="290.0" r="5.6"/><circle cx="1422.7" cy="290.0" r="5.6"/><circle cx="1332.2" cy="297.1" r="5.6"/><circle cx="1433.5" cy="297.1" r="5.6"/><circle cx="1316.0" cy="311.3" r="5.6"/><circle cx="1496.4" cy="318.4" r="5.6"/><circle cx="1400.4" cy="325.5" r="5.6"/><circle cx="1269.7" cy="346.8" r="5.6"/><circle cx="1282.8" cy="346.8" r="5.6"/><circle cx="1447.0" cy="346.8" r="5.6"/></g>
<path d="M119.10,649.58 L120.48,649.41 L121.86,649.23 L123.25,649.06 L124.63,648.88 L126.01,648.71 L127.39,648.53 L128.77,648.36 L130.16,648.18 L131.54,648.01 L132.92,647.83 L134.30,647.65 L135.68,647.48 L137.06,647.30 L138.45,647.12 L139.83,646.94 L141.21,646.76 L142.59,646.58 L143.97,646.41 L145.36,646.23 L146.74,646.04 L148.12,645.86 L149.50,645.68 L150.88,645.50 L152.27,645.32 L153.65,645.13 L155.03,644.95 L156.41,644.77 L157.79,644.58 L159.18,644.40 L160.56,644.21 L161.94,644.02 L163.32,643.84 L164.70,643.65 L166.08,643.46 L167.47,643.27 L168.85,643.08 L170.23,642.89 L171.61,642.69 L172.99,642.50 L174.38,642.31 L175.76,642.11 L177.14,641.92 L178.52,641.72 L179.90,641.52 L181.29,641.33 L182.67,641.13 L184.05,640.93 L185.43,640.72 L186.81,640.52 L188.20,640.32 L189.58,640.11 L190.96,639.91 L192.34,639.70 L193.72,639.49 L195.11,639.28 L196.49,639.06 L197.87,638.85 L199.25,638.64 L200.63,638.42 L202.01,638.20 L203.40,637.98 L204.78,637.76 L206.16,637.53 L207.54,637.31 L208.92,637.08 L210.31,636.85 L211.69,636.61 L213.07,636.38 L214.45,636.14 L215.83,635.90 L217.22,635.66 L218.60,635.41 L219.98,635.16 L221.36,634.91 L222.74,634.66 L224.13,634.40 L225.51,634.14 L226.89,633.88 L228.27,633.61 L229.65,633.34 L231.03,633.07 L232.42,632.79 L233.80,632.51 L235.18,632.22 L236.56,631.93 L237.94,631.64 L239.33,631.34 L240.71,631.04 L242.09,630.73 L243.47,630.42 L244.85,630.10 L246.24,629.77 L247.62,629.45 L249.00,629.11 L250.38,628.78 L251.76,628.43 L253.15,628.08 L254.53,627.73 L255.91,627.37 L257.29,627.00 L258.67,626.63 L260.05,626.25 L261.44,625.86 L262.82,625.47 L264.20,625.08 L265.58,624.67 L266.96,624.26 L268.35,623.85 L269.73,623.43 L271.11,623.00 L272.49,622.57 L273.87,622.13 L275.26,621.68 L276.64,621.23 L278.02,620.78 L279.40,620.31 L280.78,619.85 L282.17,619.37 L283.55,618.89 L284.93,618.41 L286.31,617.92 L287.69,617.42 L289.07,616.92 L290.46,616.42 L291.84,615.91 L293.22,615.40 L294.60,614.88 L295.98,614.36 L297.37,613.83 L298.75,613.30 L300.13,612.76 L301.51,612.23 L302.89,611.68 L304.28,611.14 L305.66,610.59 L307.04,610.04 L308.42,609.48 L309.80,608.92 L311.19,608.36 L312.57,607.79 L313.95,607.23 L315.33,606.66 L316.71,606.08 L318.09,605.51 L319.48,604.93 L320.86,604.35 L322.24,603.77 L323.62,603.18 L325.00,602.59 L326.39,602.01 L327.77,601.41 L329.15,600.82 L330.53,600.23 L331.91,599.63 L333.30,599.03 L334.68,598.43 L336.06,597.83 L337.44,597.23 L338.82,596.63 L340.21,596.02 L341.59,595.41 L342.97,594.80 L344.35,594.20 L345.73,593.58 L347.12,592.97 L348.50,592.36 L349.88,591.75 L351.26,591.13 L352.64,590.51 L354.02,589.90 L355.41,589.28 L356.79,588.66 L358.17,588.04 L359.55,587.42 L360.93,586.80 L362.32,586.17 L363.70,585.55 L365.08,584.93 L366.46,584.30 L367.84,583.68 L369.23,583.05 L370.61,582.42 L371.99,581.79 L373.37,581.17 L374.75,580.54 L376.14,579.91 L377.52,579.28 L378.90,578.65 L380.28,578.02 L381.66,577.38 L383.04,576.75 L384.43,576.12 L385.81,575.49 L387.19,574.85 L388.57,574.22 L389.95,573.58 L391.34,572.95 L392.72,572.31 L394.10,571.68" fill="none" stroke="#111" stroke-width="4.6" stroke-linecap="round" stroke-dasharray="0 11.5"/>
<path d="M119.10,706.62 L120.48,705.98 L121.86,705.34 L123.25,704.70 L124.63,704.06 L126.01,703.42 L127.39,702.78 L128.77,702.14 L130.16,701.50 L131.54,700.87 L132.92,700.23 L134.30,699.59 L135.68,698.95 L137.06,698.32 L138.45,697.68 L139.83,697.05 L141.21,696.41 L142.59,695.78 L143.97,695.14 L145.36,694.51 L146.74,693.87 L148.12,693.24 L149.50,692.61 L150.88,691.98 L152.27,691.35 L153.65,690.71 L155.03,690.08 L156.41,689.45 L157.79,688.83 L159.18,688.20 L160.56,687.57 L161.94,686.94 L163.32,686.31 L164.70,685.69 L166.08,685.06 L167.47,684.44 L168.85,683.82 L170.23,683.19 L171.61,682.57 L172.99,681.95 L174.38,681.33 L175.76,680.71 L177.14,680.09 L178.52,679.47 L179.90,678.86 L181.29,678.24 L182.67,677.63 L184.05,677.01 L185.43,676.40 L186.81,675.79 L188.20,675.18 L189.58,674.57 L190.96,673.96 L192.34,673.36 L193.72,672.75 L195.11,672.15 L196.49,671.55 L197.87,670.95 L199.25,670.35 L200.63,669.75 L202.01,669.16 L203.40,668.56 L204.78,667.97 L206.16,667.38 L207.54,666.79 L208.92,666.21 L210.31,665.63 L211.69,665.04 L213.07,664.47 L214.45,663.89 L215.83,663.31 L217.22,662.74 L218.60,662.17 L219.98,661.61 L221.36,661.05 L222.74,660.49 L224.13,659.93 L225.51,659.37 L226.89,658.82 L228.27,658.28 L229.65,657.73 L231.03,657.19 L232.42,656.66 L233.80,656.12 L235.18,655.60 L236.56,655.07 L237.94,654.55 L239.33,654.04 L240.71,653.53 L242.09,653.02 L243.47,652.52 L244.85,652.02 L246.24,651.53 L247.62,651.04 L249.00,650.56 L250.38,650.09 L251.76,649.62 L253.15,649.15 L254.53,648.69 L255.91,648.24 L257.29,647.79 L258.67,647.35 L260.05,646.92 L261.44,646.49 L262.82,646.06 L264.20,645.65 L265.58,645.24 L266.96,644.83 L268.35,644.43 L269.73,644.04 L271.11,643.65 L272.49,643.27 L273.87,642.90 L275.26,642.53 L276.64,642.16 L278.02,641.81 L279.40,641.45 L280.78,641.11 L282.17,640.77 L283.55,640.43 L284.93,640.10 L286.31,639.78 L287.69,639.46 L289.07,639.14 L290.46,638.84 L291.84,638.53 L293.22,638.23 L294.60,637.93 L295.98,637.64 L297.37,637.36 L298.75,637.07 L300.13,636.79 L301.51,636.52 L302.89,636.25 L304.28,635.98 L305.66,635.71 L307.04,635.45 L308.42,635.19 L309.80,634.94 L311.19,634.69 L312.57,634.44 L313.95,634.19 L315.33,633.95 L316.71,633.71 L318.09,633.47 L319.48,633.23 L320.86,633.00 L322.24,632.77 L323.62,632.54 L325.00,632.31 L326.39,632.08 L327.77,631.86 L329.15,631.64 L330.53,631.42 L331.91,631.20 L333.30,630.99 L334.68,630.77 L336.06,630.56 L337.44,630.35 L338.82,630.14 L340.21,629.93 L341.59,629.72 L342.97,629.52 L344.35,629.31 L345.73,629.11 L347.12,628.91 L348.50,628.70 L349.88,628.50 L351.26,628.31 L352.64,628.11 L354.02,627.91 L355.41,627.72 L356.79,627.52 L358.17,627.33 L359.55,627.13 L360.93,626.94 L362.32,626.75 L363.70,626.56 L365.08,626.37 L366.46,626.18 L367.84,625.99 L369.23,625.80 L370.61,625.62 L371.99,625.43 L373.37,625.24 L374.75,625.06 L376.14,624.88 L377.52,624.69 L378.90,624.51 L380.28,624.32 L381.66,624.14 L383.04,623.96 L384.43,623.78 L385.81,623.60 L387.19,623.42 L388.57,623.24 L389.95,623.06 L391.34,622.88 L392.72,622.70 L394.10,622.52" fill="none" stroke="#111" stroke-width="4.6" stroke-linecap="round" stroke-dasharray="0 11.5"/>
<line x1="119.10" y1="678.10" x2="394.10" y2="597.10" stroke="#fba85e" stroke-width="2.9"/>
<g fill="#000"><circle cx="395.8" cy="527.0" r="5.6"/><circle cx="379.6" cy="540.4" r="5.6"/><circle cx="365.2" cy="547.0" r="5.6"/><circle cx="364.9" cy="560.3" r="5.6"/><circle cx="212.8" cy="567.0" r="5.6"/><circle cx="333.1" cy="567.0" r="5.6"/><circle cx="238.5" cy="573.6" r="5.6"/><circle cx="266.0" cy="573.6" r="5.6"/><circle cx="333.1" cy="573.6" r="5.6"/><circle cx="197.5" cy="580.2" r="5.6"/><circle cx="291.3" cy="580.2" r="5.6"/><circle cx="256.0" cy="586.9" r="5.6"/><circle cx="249.0" cy="593.5" r="5.6"/><circle cx="326.7" cy="593.5" r="5.6"/><circle cx="198.2" cy="600.2" r="5.6"/><circle cx="279.3" cy="600.2" r="5.6"/><circle cx="215.4" cy="606.9" r="5.6"/><circle cx="224.8" cy="606.9" r="5.6"/><circle cx="260.5" cy="606.9" r="5.6"/><circle cx="291.4" cy="606.9" r="5.6"/><circle cx="239.9" cy="613.5" r="5.6"/><circle cx="260.3" cy="613.5" r="5.6"/><circle cx="284.0" cy="613.5" r="5.6"/><circle cx="196.8" cy="620.1" r="5.6"/><circle cx="230.7" cy="620.1" r="5.6"/><circle cx="240.6" cy="620.1" r="5.6"/><circle cx="271.8" cy="620.1" r="5.6"/><circle cx="300.0" cy="620.1" r="5.6"/><circle cx="189.5" cy="626.8" r="5.6"/><circle cx="220.5" cy="626.8" r="5.6"/><circle cx="251.6" cy="626.8" r="5.6"/><circle cx="250.5" cy="633.5" r="5.6"/><circle cx="261.9" cy="633.5" r="5.6"/><circle cx="294.4" cy="633.5" r="5.6"/><circle cx="317.4" cy="633.5" r="5.6"/><circle cx="357.2" cy="633.5" r="5.6"/><circle cx="260.3" cy="640.1" r="5.6"/><circle cx="308.5" cy="640.1" r="5.6"/><circle cx="246.9" cy="646.8" r="5.6"/><circle cx="262.6" cy="646.8" r="5.6"/><circle cx="283.8" cy="646.8" r="5.6"/><circle cx="308.5" cy="646.8" r="5.6"/><circle cx="319.8" cy="646.8" r="5.6"/><circle cx="328.3" cy="646.8" r="5.6"/><circle cx="195.1" cy="653.4" r="5.6"/><circle cx="291.5" cy="653.4" r="5.6"/><circle cx="321.9" cy="653.4" r="5.6"/><circle cx="236.3" cy="660.0" r="5.6"/><circle cx="242.7" cy="660.0" r="5.6"/><circle cx="184.8" cy="666.7" r="5.6"/><circle cx="194.7" cy="666.7" r="5.6"/><circle cx="248.3" cy="666.7" r="5.6"/><circle cx="290.1" cy="666.7" r="5.6"/><circle cx="302.1" cy="666.7" r="5.6"/><circle cx="230.0" cy="673.4" r="5.6"/><circle cx="315.6" cy="673.4" r="5.6"/><circle cx="204.6" cy="680.0" r="5.6"/><circle cx="312.0" cy="680.0" r="5.6"/><circle cx="294.4" cy="686.6" r="5.6"/><circle cx="324.0" cy="686.6" r="5.6"/><circle cx="147.3" cy="693.3" r="5.6"/><circle cx="220.1" cy="693.3" r="5.6"/><circle cx="299.3" cy="693.3" r="5.6"/><circle cx="277.4" cy="706.6" r="5.6"/><circle cx="281.0" cy="713.2" r="5.6"/><circle cx="171.9" cy="719.9" r="5.6"/><circle cx="118.1" cy="739.9" r="5.6"/><circle cx="135.9" cy="739.9" r="5.6"/><circle cx="337.9" cy="739.9" r="5.6"/></g>
<path d="M688.80,657.40 L689.91,657.11 L691.03,656.82 L692.14,656.53 L693.25,656.24 L694.37,655.95 L695.48,655.67 L696.59,655.38 L697.71,655.08 L698.82,654.79 L699.94,654.50 L701.05,654.21 L702.16,653.92 L703.28,653.63 L704.39,653.33 L705.50,653.04 L706.62,652.75 L707.73,652.45 L708.84,652.16 L709.96,651.87 L711.07,651.57 L712.18,651.27 L713.30,650.98 L714.41,650.68 L715.53,650.38 L716.64,650.09 L717.75,649.79 L718.87,649.49 L719.98,649.19 L721.09,648.89 L722.21,648.59 L723.32,648.29 L724.43,647.98 L725.55,647.68 L726.66,647.38 L727.77,647.07 L728.89,646.77 L730.00,646.46 L731.12,646.15 L732.23,645.84 L733.34,645.54 L734.46,645.23 L735.57,644.92 L736.68,644.60 L737.80,644.29 L738.91,643.98 L740.02,643.66 L741.14,643.35 L742.25,643.03 L743.36,642.71 L744.48,642.39 L745.59,642.07 L746.71,641.75 L747.82,641.42 L748.93,641.10 L750.05,640.77 L751.16,640.44 L752.27,640.11 L753.39,639.78 L754.50,639.45 L755.61,639.11 L756.73,638.77 L757.84,638.43 L758.95,638.09 L760.07,637.75 L761.18,637.40 L762.30,637.05 L763.41,636.70 L764.52,636.35 L765.64,635.99 L766.75,635.63 L767.86,635.27 L768.98,634.91 L770.09,634.54 L771.20,634.17 L772.32,633.80 L773.43,633.42 L774.54,633.04 L775.66,632.65 L776.77,632.27 L777.89,631.87 L779.00,631.48 L780.11,631.08 L781.23,630.67 L782.34,630.26 L783.45,629.85 L784.57,629.43 L785.68,629.01 L786.79,628.58 L787.91,628.15 L789.02,627.71 L790.13,627.27 L791.25,626.82 L792.36,626.36 L793.48,625.90 L794.59,625.44 L795.70,624.96 L796.82,624.48 L797.93,624.00 L799.04,623.51 L800.16,623.01 L801.27,622.51 L802.38,622.00 L803.50,621.49 L804.61,620.96 L805.72,620.44 L806.84,619.90 L807.95,619.36 L809.07,618.81 L810.18,618.26 L811.29,617.70 L812.41,617.13 L813.52,616.56 L814.63,615.99 L815.75,615.40 L816.86,614.81 L817.97,614.22 L819.09,613.62 L820.20,613.01 L821.31,612.40 L822.43,611.79 L823.54,611.17 L824.66,610.54 L825.77,609.91 L826.88,609.28 L828.00,608.64 L829.11,607.99 L830.22,607.35 L831.34,606.69 L832.45,606.04 L833.56,605.38 L834.68,604.72 L835.79,604.05 L836.90,603.38 L838.02,602.71 L839.13,602.03 L840.25,601.35 L841.36,600.67 L842.47,599.99 L843.59,599.30 L844.70,598.61 L845.81,597.92 L846.93,597.22 L848.04,596.52 L849.15,595.82 L850.27,595.12 L851.38,594.42 L852.49,593.71 L853.61,593.00 L854.72,592.29 L855.84,591.58 L856.95,590.87 L858.06,590.16 L859.18,589.44 L860.29,588.72 L861.40,588.00 L862.52,587.28 L863.63,586.56 L864.74,585.84 L865.86,585.11 L866.97,584.38 L868.08,583.66 L869.20,582.93 L870.31,582.20 L871.43,581.47 L872.54,580.74 L873.65,580.01 L874.77,579.27 L875.88,578.54 L876.99,577.80 L878.11,577.07 L879.22,576.33 L880.33,575.59 L881.45,574.85 L882.56,574.11 L883.67,573.37 L884.79,572.63 L885.90,571.89 L887.02,571.15 L888.13,570.40 L889.24,569.66 L890.36,568.92 L891.47,568.17 L892.58,567.43 L893.70,566.68 L894.81,565.93 L895.92,565.19 L897.04,564.44 L898.15,563.69 L899.26,562.94 L900.38,562.20 L901.49,561.45 L902.61,560.70 L903.72,559.95 L904.83,559.20 L905.95,558.44 L907.06,557.69 L908.17,556.94 L909.29,556.19 L910.40,555.44" fill="none" stroke="#111" stroke-width="4.6" stroke-linecap="round" stroke-dasharray="0 11.5"/>
<path d="M688.80,712.80 L689.91,712.05 L691.03,711.29 L692.14,710.54 L693.25,709.78 L694.37,709.03 L695.48,708.28 L696.59,707.52 L697.71,706.77 L698.82,706.02 L699.94,705.26 L701.05,704.51 L702.16,703.76 L703.28,703.01 L704.39,702.26 L705.50,701.51 L706.62,700.76 L707.73,700.01 L708.84,699.26 L709.96,698.51 L711.07,697.77 L712.18,697.02 L713.30,696.27 L714.41,695.52 L715.53,694.78 L716.64,694.03 L717.75,693.29 L718.87,692.55 L719.98,691.80 L721.09,691.06 L722.21,690.32 L723.32,689.58 L724.43,688.83 L725.55,688.09 L726.66,687.35 L727.77,686.62 L728.89,685.88 L730.00,685.14 L731.12,684.41 L732.23,683.67 L733.34,682.94 L734.46,682.20 L735.57,681.47 L736.68,680.74 L737.80,680.01 L738.91,679.28 L740.02,678.55 L741.14,677.82 L742.25,677.10 L743.36,676.37 L744.48,675.65 L745.59,674.93 L746.71,674.21 L747.82,673.49 L748.93,672.77 L750.05,672.05 L751.16,671.34 L752.27,670.63 L753.39,669.91 L754.50,669.21 L755.61,668.50 L756.73,667.79 L757.84,667.09 L758.95,666.39 L760.07,665.69 L761.18,664.99 L762.30,664.30 L763.41,663.60 L764.52,662.91 L765.64,662.23 L766.75,661.54 L767.86,660.86 L768.98,660.18 L770.09,659.50 L771.20,658.83 L772.32,658.16 L773.43,657.50 L774.54,656.83 L775.66,656.18 L776.77,655.52 L777.89,654.87 L779.00,654.22 L780.11,653.58 L781.23,652.94 L782.34,652.31 L783.45,651.68 L784.57,651.05 L785.68,650.43 L786.79,649.82 L787.91,649.21 L789.02,648.60 L790.13,648.00 L791.25,647.41 L792.36,646.82 L793.48,646.24 L794.59,645.66 L795.70,645.09 L796.82,644.52 L797.93,643.96 L799.04,643.41 L800.16,642.87 L801.27,642.32 L802.38,641.79 L803.50,641.26 L804.61,640.74 L805.72,640.23 L806.84,639.72 L807.95,639.22 L809.07,638.72 L810.18,638.23 L811.29,637.75 L812.41,637.27 L813.52,636.80 L814.63,636.33 L815.75,635.87 L816.86,635.42 L817.97,634.97 L819.09,634.52 L820.20,634.09 L821.31,633.65 L822.43,633.23 L823.54,632.80 L824.66,632.39 L825.77,631.97 L826.88,631.56 L828.00,631.16 L829.11,630.76 L830.22,630.37 L831.34,629.97 L832.45,629.59 L833.56,629.20 L834.68,628.82 L835.79,628.44 L836.90,628.07 L838.02,627.70 L839.13,627.33 L840.25,626.97 L841.36,626.61 L842.47,626.25 L843.59,625.89 L844.70,625.54 L845.81,625.19 L846.93,624.84 L848.04,624.50 L849.15,624.15 L850.27,623.81 L851.38,623.47 L852.49,623.13 L853.61,622.80 L854.72,622.47 L855.84,622.13 L856.95,621.80 L858.06,621.48 L859.18,621.15 L860.29,620.82 L861.40,620.50 L862.52,620.18 L863.63,619.86 L864.74,619.54 L865.86,619.22 L866.97,618.90 L868.08,618.58 L869.20,618.27 L870.31,617.96 L871.43,617.64 L872.54,617.33 L873.65,617.02 L874.77,616.71 L875.88,616.40 L876.99,616.09 L878.11,615.79 L879.22,615.48 L880.33,615.18 L881.45,614.87 L882.56,614.57 L883.67,614.26 L884.79,613.96 L885.90,613.66 L887.02,613.36 L888.13,613.06 L889.24,612.76 L890.36,612.46 L891.47,612.16 L892.58,611.86 L893.70,611.57 L894.81,611.27 L895.92,610.97 L897.04,610.68 L898.15,610.38 L899.26,610.09 L900.38,609.79 L901.49,609.50 L902.61,609.21 L903.72,608.91 L904.83,608.62 L905.95,608.33 L907.06,608.04 L908.17,607.75 L909.29,607.45 L910.40,607.16" fill="none" stroke="#111" stroke-width="4.6" stroke-linecap="round" stroke-dasharray="0 11.5"/>
<line x1="688.80" y1="685.10" x2="910.40" y2="581.30" stroke="#fba85e" stroke-width="2.9"/>
<g fill="#000"><circle cx="913.9" cy="522.8" r="5.6"/><circle cx="889.9" cy="536.1" r="5.6"/><circle cx="882.1" cy="542.8" r="5.6"/><circle cx="872.3" cy="556.1" r="5.6"/><circle cx="814.9" cy="562.8" r="5.6"/><circle cx="820.5" cy="562.8" r="5.6"/><circle cx="763.7" cy="569.4" r="5.6"/><circle cx="794.4" cy="569.4" r="5.6"/><circle cx="809.2" cy="569.4" r="5.6"/><circle cx="744.7" cy="576.1" r="5.6"/><circle cx="815.6" cy="576.1" r="5.6"/><circle cx="800.0" cy="582.8" r="5.6"/><circle cx="771.5" cy="589.4" r="5.6"/><circle cx="787.0" cy="589.4" r="5.6"/><circle cx="833.9" cy="589.4" r="5.6"/><circle cx="789.9" cy="596.1" r="5.6"/><circle cx="869.1" cy="596.1" r="5.6"/><circle cx="775.0" cy="602.7" r="5.6"/><circle cx="806.4" cy="602.7" r="5.6"/><circle cx="816.3" cy="602.7" r="5.6"/><circle cx="850.4" cy="602.7" r="5.6"/><circle cx="736.2" cy="609.4" r="5.6"/><circle cx="755.8" cy="609.4" r="5.6"/><circle cx="766.9" cy="609.4" r="5.6"/><circle cx="800.7" cy="609.4" r="5.6"/><circle cx="869.4" cy="609.4" r="5.6"/><circle cx="765.4" cy="616.1" r="5.6"/><circle cx="781.7" cy="616.1" r="5.6"/><circle cx="788.7" cy="616.1" r="5.6"/><circle cx="815.6" cy="616.1" r="5.6"/><circle cx="822.6" cy="616.1" r="5.6"/><circle cx="808.5" cy="622.7" r="5.6"/><circle cx="814.2" cy="622.7" r="5.6"/><circle cx="871.5" cy="622.7" r="5.6"/><circle cx="720.0" cy="629.4" r="5.6"/><circle cx="781.7" cy="629.4" r="5.6"/><circle cx="788.7" cy="629.4" r="5.6"/><circle cx="812.8" cy="629.4" r="5.6"/><circle cx="868.7" cy="629.4" r="5.6"/><circle cx="828.3" cy="636.0" r="5.6"/><circle cx="849.0" cy="636.0" r="5.6"/><circle cx="767.6" cy="642.7" r="5.6"/><circle cx="778.9" cy="642.7" r="5.6"/><circle cx="784.5" cy="642.7" r="5.6"/><circle cx="802.9" cy="642.7" r="5.6"/><circle cx="834.6" cy="642.7" r="5.6"/><circle cx="866.6" cy="642.7" r="5.6"/><circle cx="785.2" cy="649.4" r="5.6"/><circle cx="805.0" cy="649.4" r="5.6"/><circle cx="821.9" cy="649.4" r="5.6"/><circle cx="843.3" cy="649.4" r="5.6"/><circle cx="802.9" cy="656.0" r="5.6"/><circle cx="749.2" cy="662.7" r="5.6"/><circle cx="785.9" cy="662.7" r="5.6"/><circle cx="794.4" cy="662.7" r="5.6"/><circle cx="836.0" cy="662.7" r="5.6"/><circle cx="856.7" cy="662.7" r="5.6"/><circle cx="778.2" cy="669.3" r="5.6"/><circle cx="805.7" cy="669.3" r="5.6"/><circle cx="783.1" cy="676.0" r="5.6"/><circle cx="822.6" cy="676.0" r="5.6"/><circle cx="777.4" cy="682.7" r="5.6"/><circle cx="817.0" cy="682.7" r="5.6"/><circle cx="788.0" cy="689.3" r="5.6"/><circle cx="838.2" cy="689.3" r="5.6"/><circle cx="783.8" cy="702.6" r="5.6"/><circle cx="793.0" cy="709.3" r="5.6"/><circle cx="813.5" cy="716.0" r="5.6"/><circle cx="688.0" cy="735.9" r="5.6"/><circle cx="693.5" cy="735.9" r="5.6"/></g>
<path d="M1223.50,646.37 L1225.35,646.19 L1227.21,646.01 L1229.06,645.84 L1230.92,645.66 L1232.77,645.48 L1234.63,645.30 L1236.48,645.12 L1238.33,644.94 L1240.19,644.76 L1242.04,644.58 L1243.90,644.40 L1245.75,644.22 L1247.61,644.04 L1249.46,643.86 L1251.31,643.68 L1253.17,643.50 L1255.02,643.32 L1256.88,643.13 L1258.73,642.95 L1260.59,642.77 L1262.44,642.58 L1264.29,642.40 L1266.15,642.21 L1268.00,642.03 L1269.86,641.84 L1271.71,641.66 L1273.57,641.47 L1275.42,641.28 L1277.27,641.09 L1279.13,640.90 L1280.98,640.72 L1282.84,640.53 L1284.69,640.34 L1286.55,640.14 L1288.40,639.95 L1290.25,639.76 L1292.11,639.57 L1293.96,639.37 L1295.82,639.18 L1297.67,638.98 L1299.53,638.79 L1301.38,638.59 L1303.23,638.39 L1305.09,638.19 L1306.94,637.99 L1308.80,637.79 L1310.65,637.59 L1312.51,637.39 L1314.36,637.19 L1316.21,636.98 L1318.07,636.78 L1319.92,636.57 L1321.78,636.36 L1323.63,636.15 L1325.48,635.94 L1327.34,635.73 L1329.19,635.51 L1331.05,635.30 L1332.90,635.08 L1334.76,634.86 L1336.61,634.64 L1338.46,634.42 L1340.32,634.20 L1342.17,633.98 L1344.03,633.75 L1345.88,633.52 L1347.74,633.29 L1349.59,633.06 L1351.44,632.82 L1353.30,632.58 L1355.15,632.34 L1357.01,632.10 L1358.86,631.86 L1360.72,631.61 L1362.57,631.36 L1364.42,631.11 L1366.28,630.85 L1368.13,630.59 L1369.99,630.33 L1371.84,630.06 L1373.70,629.80 L1375.55,629.52 L1377.40,629.25 L1379.26,628.97 L1381.11,628.68 L1382.97,628.40 L1384.82,628.10 L1386.68,627.81 L1388.53,627.51 L1390.38,627.20 L1392.24,626.89 L1394.09,626.57 L1395.95,626.25 L1397.80,625.93 L1399.66,625.60 L1401.51,625.26 L1403.36,624.92 L1405.22,624.57 L1407.07,624.21 L1408.93,623.85 L1410.78,623.49 L1412.64,623.12 L1414.49,622.74 L1416.34,622.35 L1418.20,621.96 L1420.05,621.56 L1421.91,621.16 L1423.76,620.75 L1425.62,620.33 L1427.47,619.90 L1429.32,619.47 L1431.18,619.03 L1433.03,618.59 L1434.89,618.14 L1436.74,617.68 L1438.60,617.21 L1440.45,616.74 L1442.30,616.27 L1444.16,615.78 L1446.01,615.29 L1447.87,614.80 L1449.72,614.30 L1451.58,613.79 L1453.43,613.28 L1455.28,612.76 L1457.14,612.24 L1458.99,611.71 L1460.85,611.17 L1462.70,610.63 L1464.56,610.09 L1466.41,609.54 L1468.26,608.99 L1470.12,608.43 L1471.97,607.87 L1473.83,607.30 L1475.68,606.74 L1477.54,606.16 L1479.39,605.58 L1481.24,605.00 L1483.10,604.42 L1484.95,603.83 L1486.81,603.24 L1488.66,602.65 L1490.52,602.05 L1492.37,601.45 L1494.22,600.85 L1496.08,600.25 L1497.93,599.64 L1499.79,599.03 L1501.64,598.42 L1503.49,597.80 L1505.35,597.19 L1507.20,596.57 L1509.06,595.95 L1510.91,595.32 L1512.77,594.70 L1514.62,594.07 L1516.47,593.45 L1518.33,592.82 L1520.18,592.19 L1522.04,591.55 L1523.89,590.92 L1525.75,590.28 L1527.60,589.65 L1529.45,589.01 L1531.31,588.37 L1533.16,587.73 L1535.02,587.08 L1536.87,586.44 L1538.73,585.80 L1540.58,585.15 L1542.43,584.50 L1544.29,583.86 L1546.14,583.21 L1548.00,582.56 L1549.85,581.91 L1551.71,581.26 L1553.56,580.60 L1555.41,579.95 L1557.27,579.30 L1559.12,578.64 L1560.98,577.99 L1562.83,577.33 L1564.69,576.67 L1566.54,576.02 L1568.39,575.36 L1570.25,574.70 L1572.10,574.04 L1573.96,573.38 L1575.81,572.72 L1577.67,572.06 L1579.52,571.39 L1581.37,570.73 L1583.23,570.07 L1585.08,569.41 L1586.94,568.74 L1588.79,568.08 L1590.65,567.41 L1592.50,566.75" fill="none" stroke="#111" stroke-width="4.6" stroke-linecap="round" stroke-dasharray="0 12.1"/>
<path d="M1223.50,707.63 L1225.35,706.96 L1227.21,706.29 L1229.06,705.62 L1230.92,704.94 L1232.77,704.27 L1234.63,703.60 L1236.48,702.93 L1238.33,702.26 L1240.19,701.59 L1242.04,700.92 L1243.90,700.25 L1245.75,699.58 L1247.61,698.92 L1249.46,698.25 L1251.31,697.58 L1253.17,696.91 L1255.02,696.25 L1256.88,695.58 L1258.73,694.91 L1260.59,694.25 L1262.44,693.58 L1264.29,692.92 L1266.15,692.25 L1268.00,691.59 L1269.86,690.93 L1271.71,690.26 L1273.57,689.60 L1275.42,688.94 L1277.27,688.28 L1279.13,687.62 L1280.98,686.96 L1282.84,686.30 L1284.69,685.64 L1286.55,684.98 L1288.40,684.32 L1290.25,683.67 L1292.11,683.01 L1293.96,682.36 L1295.82,681.70 L1297.67,681.05 L1299.53,680.39 L1301.38,679.74 L1303.23,679.09 L1305.09,678.44 L1306.94,677.79 L1308.80,677.14 L1310.65,676.49 L1312.51,675.85 L1314.36,675.20 L1316.21,674.56 L1318.07,673.91 L1319.92,673.27 L1321.78,672.63 L1323.63,671.99 L1325.48,671.35 L1327.34,670.71 L1329.19,670.08 L1331.05,669.44 L1332.90,668.81 L1334.76,668.18 L1336.61,667.55 L1338.46,666.92 L1340.32,666.30 L1342.17,665.67 L1344.03,665.05 L1345.88,664.43 L1347.74,663.81 L1349.59,663.20 L1351.44,662.58 L1353.30,661.97 L1355.15,661.36 L1357.01,660.75 L1358.86,660.15 L1360.72,659.55 L1362.57,658.95 L1364.42,658.35 L1366.28,657.76 L1368.13,657.17 L1369.99,656.58 L1371.84,656.00 L1373.70,655.42 L1375.55,654.84 L1377.40,654.27 L1379.26,653.70 L1381.11,653.13 L1382.97,652.57 L1384.82,652.01 L1386.68,651.46 L1388.53,650.91 L1390.38,650.37 L1392.24,649.83 L1394.09,649.30 L1395.95,648.77 L1397.80,648.24 L1399.66,647.73 L1401.51,647.21 L1403.36,646.71 L1405.22,646.20 L1407.07,645.71 L1408.93,645.22 L1410.78,644.74 L1412.64,644.26 L1414.49,643.79 L1416.34,643.33 L1418.20,642.87 L1420.05,642.42 L1421.91,641.97 L1423.76,641.54 L1425.62,641.10 L1427.47,640.68 L1429.32,640.26 L1431.18,639.85 L1433.03,639.45 L1434.89,639.05 L1436.74,638.66 L1438.60,638.27 L1440.45,637.89 L1442.30,637.52 L1444.16,637.16 L1446.01,636.80 L1447.87,636.44 L1449.72,636.09 L1451.58,635.75 L1453.43,635.42 L1455.28,635.08 L1457.14,634.76 L1458.99,634.44 L1460.85,634.12 L1462.70,633.81 L1464.56,633.51 L1466.41,633.21 L1468.26,632.91 L1470.12,632.62 L1471.97,632.33 L1473.83,632.05 L1475.68,631.77 L1477.54,631.49 L1479.39,631.22 L1481.24,630.95 L1483.10,630.69 L1484.95,630.42 L1486.81,630.16 L1488.66,629.91 L1490.52,629.66 L1492.37,629.41 L1494.22,629.16 L1496.08,628.91 L1497.93,628.67 L1499.79,628.43 L1501.64,628.20 L1503.49,627.96 L1505.35,627.73 L1507.20,627.50 L1509.06,627.27 L1510.91,627.04 L1512.77,626.82 L1514.62,626.59 L1516.47,626.37 L1518.33,626.15 L1520.18,625.94 L1522.04,625.72 L1523.89,625.50 L1525.75,625.29 L1527.60,625.08 L1529.45,624.87 L1531.31,624.66 L1533.16,624.45 L1535.02,624.24 L1536.87,624.04 L1538.73,623.83 L1540.58,623.63 L1542.43,623.43 L1544.29,623.22 L1546.14,623.02 L1548.00,622.82 L1549.85,622.63 L1551.71,622.43 L1553.56,622.23 L1555.41,622.04 L1557.27,621.84 L1559.12,621.65 L1560.98,621.45 L1562.83,621.26 L1564.69,621.07 L1566.54,620.87 L1568.39,620.68 L1570.25,620.49 L1572.10,620.30 L1573.96,620.11 L1575.81,619.93 L1577.67,619.74 L1579.52,619.55 L1581.37,619.36 L1583.23,619.18 L1585.08,618.99 L1586.94,618.81 L1588.79,618.62 L1590.65,618.44 L1592.50,618.25" fill="none" stroke="#111" stroke-width="4.6" stroke-linecap="round" stroke-dasharray="0 12.1"/>
<line x1="1223.50" y1="677.00" x2="1592.50" y2="592.50" stroke="#fba85e" stroke-width="2.9"/>
<g fill="#000"><circle cx="1592.9" cy="522.9" r="5.6"/><circle cx="1560.4" cy="536.2" r="5.6"/><circle cx="1557.6" cy="542.8" r="5.6"/><circle cx="1556.9" cy="556.2" r="5.6"/><circle cx="1455.9" cy="562.8" r="5.6"/><circle cx="1484.2" cy="562.8" r="5.6"/><circle cx="1369.0" cy="569.5" r="5.6"/><circle cx="1393.8" cy="569.5" r="5.6"/><circle cx="1431.6" cy="569.5" r="5.6"/><circle cx="1311.9" cy="576.2" r="5.6"/><circle cx="1430.5" cy="576.2" r="5.6"/><circle cx="1399.4" cy="582.8" r="5.6"/><circle cx="1375.4" cy="589.5" r="5.6"/><circle cx="1392.4" cy="589.5" r="5.6"/><circle cx="1477.1" cy="589.5" r="5.6"/><circle cx="1368.0" cy="596.2" r="5.6"/><circle cx="1544.6" cy="596.2" r="5.6"/><circle cx="1384.6" cy="602.8" r="5.6"/><circle cx="1431.6" cy="602.8" r="5.6"/><circle cx="1492.6" cy="602.8" r="5.6"/><circle cx="1286.9" cy="609.5" r="5.6"/><circle cx="1427.7" cy="609.5" r="5.6"/><circle cx="1451.7" cy="609.5" r="5.6"/><circle cx="1457.3" cy="609.5" r="5.6"/><circle cx="1529.8" cy="609.5" r="5.6"/><circle cx="1354.4" cy="616.2" r="5.6"/><circle cx="1383.9" cy="616.2" r="5.6"/><circle cx="1390.2" cy="616.2" r="5.6"/><circle cx="1398.7" cy="616.2" r="5.6"/><circle cx="1429.1" cy="616.2" r="5.6"/><circle cx="1443.2" cy="622.8" r="5.6"/><circle cx="1520.2" cy="622.8" r="5.6"/><circle cx="1306.0" cy="629.5" r="5.6"/><circle cx="1337.5" cy="629.5" r="5.6"/><circle cx="1381.8" cy="629.5" r="5.6"/><circle cx="1414.3" cy="629.5" r="5.6"/><circle cx="1443.9" cy="629.5" r="5.6"/><circle cx="1504.6" cy="636.2" r="5.6"/><circle cx="1542.1" cy="636.2" r="5.6"/><circle cx="1352.6" cy="642.8" r="5.6"/><circle cx="1388.8" cy="642.8" r="5.6"/><circle cx="1427.7" cy="642.8" r="5.6"/><circle cx="1463.7" cy="642.8" r="5.6"/><circle cx="1518.4" cy="642.8" r="5.6"/><circle cx="1407.2" cy="649.5" r="5.6"/><circle cx="1423.4" cy="649.5" r="5.6"/><circle cx="1456.6" cy="649.5" r="5.6"/><circle cx="1471.5" cy="649.5" r="5.6"/><circle cx="1423.4" cy="656.2" r="5.6"/><circle cx="1436.4" cy="656.2" r="5.6"/><circle cx="1328.6" cy="662.8" r="5.6"/><circle cx="1385.3" cy="662.8" r="5.6"/><circle cx="1404.4" cy="662.8" r="5.6"/><circle cx="1475.7" cy="662.8" r="5.6"/><circle cx="1497.6" cy="662.8" r="5.6"/><circle cx="1374.7" cy="669.5" r="5.6"/><circle cx="1419.9" cy="669.5" r="5.6"/><circle cx="1368.4" cy="676.1" r="5.6"/><circle cx="1475.7" cy="676.1" r="5.6"/><circle cx="1392.4" cy="682.8" r="5.6"/><circle cx="1422.3" cy="682.8" r="5.6"/><circle cx="1377.5" cy="689.5" r="5.6"/><circle cx="1393.8" cy="689.5" r="5.6"/><circle cx="1496.9" cy="689.5" r="5.6"/><circle cx="1405.1" cy="702.8" r="5.6"/><circle cx="1410.0" cy="709.5" r="5.6"/><circle cx="1301.0" cy="716.1" r="5.6"/><circle cx="1222.7" cy="736.1" r="5.6"/><circle cx="1282.2" cy="736.1" r="5.6"/><circle cx="1552.0" cy="736.1" r="5.6"/></g>
</svg>
</body></html>
